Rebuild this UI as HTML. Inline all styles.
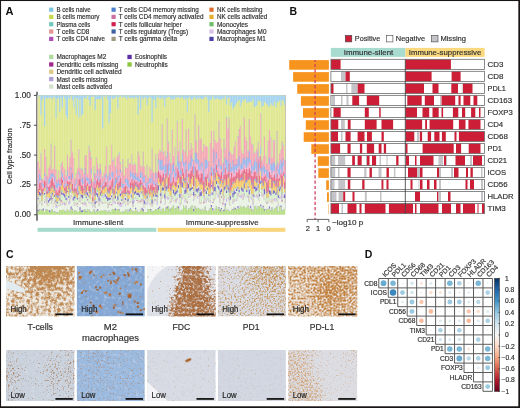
<!DOCTYPE html>
<html><head><meta charset="utf-8"><style>
html,body{margin:0;padding:0;background:#fff;}
body{width:520px;height:408px;overflow:hidden;position:relative;}
svg{position:absolute;left:0;top:0;font-family:"Liberation Sans",sans-serif;will-change:transform;}
</style></head><body>
<svg width="520" height="408" viewBox="0 0 520 408">
<rect x="0" y="0" width="520" height="408" fill="#fff"/>
<text x="5.50" y="14.70" font-size="10.5" fill="#111" text-anchor="start" textLength="8.00" lengthAdjust="spacingAndGlyphs" font-weight="bold">A</text>
<rect x="49.10" y="7.60" width="4.20" height="4.20" fill="#7cc6e0"/>
<text x="56.50" y="12.25" font-size="7" fill="#303030" text-anchor="start" textLength="34.10" lengthAdjust="spacingAndGlyphs" stroke="#303030" stroke-width="0.18">B cells naive</text>
<rect x="49.10" y="14.80" width="4.20" height="4.20" fill="#c6da4e"/>
<text x="56.50" y="19.45" font-size="7" fill="#303030" text-anchor="start" textLength="43.00" lengthAdjust="spacingAndGlyphs" stroke="#303030" stroke-width="0.18">B cells memory</text>
<rect x="49.10" y="22.10" width="4.20" height="4.20" fill="#6ec8bc"/>
<text x="56.50" y="26.75" font-size="7" fill="#303030" text-anchor="start" textLength="33.80" lengthAdjust="spacingAndGlyphs" stroke="#303030" stroke-width="0.18">Plasma cells</text>
<rect x="49.10" y="29.40" width="4.20" height="4.20" fill="#e29490"/>
<text x="56.50" y="34.05" font-size="7" fill="#303030" text-anchor="start" textLength="32.80" lengthAdjust="spacingAndGlyphs" stroke="#303030" stroke-width="0.18">T cells CD8</text>
<rect x="49.10" y="36.80" width="4.20" height="4.20" fill="#ae4fb6"/>
<text x="56.50" y="41.45" font-size="7" fill="#303030" text-anchor="start" textLength="48.40" lengthAdjust="spacingAndGlyphs" stroke="#303030" stroke-width="0.18">T cells CD4 naive</text>
<rect x="111.50" y="7.60" width="4.20" height="4.20" fill="#4f7fcf"/>
<text x="118.80" y="12.25" font-size="7" fill="#303030" text-anchor="start" textLength="79.90" lengthAdjust="spacingAndGlyphs" stroke="#303030" stroke-width="0.18">T cells CD4 memory missing</text>
<rect x="111.50" y="14.80" width="4.20" height="4.20" fill="#cf6fa6"/>
<text x="118.80" y="19.45" font-size="7" fill="#303030" text-anchor="start" textLength="84.70" lengthAdjust="spacingAndGlyphs" stroke="#303030" stroke-width="0.18">T cells CD4 memory activated</text>
<rect x="111.50" y="22.10" width="4.20" height="4.20" fill="#d42050"/>
<text x="118.80" y="26.75" font-size="7" fill="#303030" text-anchor="start" textLength="63.00" lengthAdjust="spacingAndGlyphs" stroke="#303030" stroke-width="0.18">T cells follicular helper</text>
<rect x="111.50" y="29.40" width="4.20" height="4.20" fill="#3f5f9f"/>
<text x="118.80" y="34.05" font-size="7" fill="#303030" text-anchor="start" textLength="69.30" lengthAdjust="spacingAndGlyphs" stroke="#303030" stroke-width="0.18">T cells regulatory (Tregs)</text>
<rect x="111.50" y="36.80" width="4.20" height="4.20" fill="#9e9a7e"/>
<text x="118.80" y="41.45" font-size="7" fill="#303030" text-anchor="start" textLength="58.40" lengthAdjust="spacingAndGlyphs" stroke="#303030" stroke-width="0.18">T cells gamma delta</text>
<rect x="209.40" y="7.60" width="4.20" height="4.20" fill="#de6c2e"/>
<text x="217.00" y="12.25" font-size="7" fill="#303030" text-anchor="start" textLength="45.50" lengthAdjust="spacingAndGlyphs" stroke="#303030" stroke-width="0.18">NK cells missing</text>
<rect x="209.40" y="14.80" width="4.20" height="4.20" fill="#e6ae2e"/>
<text x="217.00" y="19.45" font-size="7" fill="#303030" text-anchor="start" textLength="50.20" lengthAdjust="spacingAndGlyphs" stroke="#303030" stroke-width="0.18">NK cells activated</text>
<rect x="209.40" y="22.10" width="4.20" height="4.20" fill="#6cbe6c"/>
<text x="217.00" y="26.75" font-size="7" fill="#303030" text-anchor="start" textLength="31.10" lengthAdjust="spacingAndGlyphs" stroke="#303030" stroke-width="0.18">Monocytes</text>
<rect x="209.40" y="29.40" width="4.20" height="4.20" fill="#d6c0e8"/>
<text x="217.00" y="34.05" font-size="7" fill="#303030" text-anchor="start" textLength="49.50" lengthAdjust="spacingAndGlyphs" stroke="#303030" stroke-width="0.18">Macrophages M0</text>
<rect x="209.40" y="36.80" width="4.20" height="4.20" fill="#4a40a6"/>
<text x="217.00" y="41.45" font-size="7" fill="#303030" text-anchor="start" textLength="48.90" lengthAdjust="spacingAndGlyphs" stroke="#303030" stroke-width="0.18">Macrophages M1</text>
<rect x="49.10" y="54.80" width="4.30" height="4.30" fill="#aed89e"/>
<text x="56.40" y="59.45" font-size="7" fill="#303030" text-anchor="start" textLength="49.90" lengthAdjust="spacingAndGlyphs" stroke="#303030" stroke-width="0.18">Macrophages M2</text>
<rect x="49.10" y="62.30" width="4.30" height="4.30" fill="#a0288e"/>
<text x="56.40" y="66.95" font-size="7" fill="#303030" text-anchor="start" textLength="61.90" lengthAdjust="spacingAndGlyphs" stroke="#303030" stroke-width="0.18">Dendritic cells missing</text>
<rect x="49.10" y="69.60" width="4.30" height="4.30" fill="#dcca88"/>
<text x="56.40" y="74.25" font-size="7" fill="#303030" text-anchor="start" textLength="65.30" lengthAdjust="spacingAndGlyphs" stroke="#303030" stroke-width="0.18">Dendritic cell activated</text>
<rect x="49.10" y="76.90" width="4.30" height="4.30" fill="#ae9ed6"/>
<text x="56.40" y="81.55" font-size="7" fill="#303030" text-anchor="start" textLength="51.00" lengthAdjust="spacingAndGlyphs" stroke="#303030" stroke-width="0.18">Mast cells missing</text>
<rect x="49.10" y="84.40" width="4.30" height="4.30" fill="#d4e2cc"/>
<text x="56.40" y="89.05" font-size="7" fill="#303030" text-anchor="start" textLength="55.80" lengthAdjust="spacingAndGlyphs" stroke="#303030" stroke-width="0.18">Mast cells activated</text>
<rect x="127.40" y="54.80" width="4.30" height="4.30" fill="#5e30a6"/>
<text x="134.90" y="59.45" font-size="7" fill="#303030" text-anchor="start" textLength="32.10" lengthAdjust="spacingAndGlyphs" stroke="#303030" stroke-width="0.18">Eosinophils</text>
<rect x="127.40" y="62.30" width="4.30" height="4.30" fill="#8cc63e"/>
<text x="134.90" y="66.95" font-size="7" fill="#303030" text-anchor="start" textLength="32.90" lengthAdjust="spacingAndGlyphs" stroke="#303030" stroke-width="0.18">Neutrophils</text>
<line x1="37.00" y1="91.80" x2="37.00" y2="220.80" stroke="#4a4a4a" stroke-width="1.4"/>
<line x1="33.90" y1="214.80" x2="37.00" y2="214.80" stroke="#4a4a4a" stroke-width="1"/>
<text x="30.80" y="217.30" font-size="8.2" fill="#303030" text-anchor="end" stroke="#303030" stroke-width="0.18">0.00</text>
<line x1="33.90" y1="184.95" x2="37.00" y2="184.95" stroke="#4a4a4a" stroke-width="1"/>
<text x="30.80" y="187.45" font-size="8.2" fill="#303030" text-anchor="end" stroke="#303030" stroke-width="0.18">.25</text>
<line x1="33.90" y1="155.10" x2="37.00" y2="155.10" stroke="#4a4a4a" stroke-width="1"/>
<text x="30.80" y="157.60" font-size="8.2" fill="#303030" text-anchor="end" stroke="#303030" stroke-width="0.18">.50</text>
<line x1="33.90" y1="125.25" x2="37.00" y2="125.25" stroke="#4a4a4a" stroke-width="1"/>
<text x="30.80" y="127.75" font-size="8.2" fill="#303030" text-anchor="end" stroke="#303030" stroke-width="0.18">.75</text>
<line x1="33.90" y1="95.40" x2="37.00" y2="95.40" stroke="#4a4a4a" stroke-width="1"/>
<text x="30.80" y="97.90" font-size="8.2" fill="#303030" text-anchor="end" stroke="#303030" stroke-width="0.18">1.00</text>
<text x="0" y="0" font-size="6.8" fill="#303030" stroke="#303030" stroke-width="0.18" text-anchor="middle" textLength="56" lengthAdjust="spacingAndGlyphs" transform="translate(11.9,156.3) rotate(-90)">Cell type fraction</text>
<g><path d="M37.7 95.4V214.8H39.0V214.8H40.2V214.8H41.5V214.8H42.8V214.8H44.0V214.8H45.3V214.8H46.5V214.8H47.8V214.8H49.1V214.8H50.3V214.8H51.6V214.8H52.9V214.8H54.1V214.8H55.4V214.8H56.6V214.8H57.9V214.8H59.2V214.8H60.4V214.8H61.7V214.8H63.0V214.8H64.2V214.8H65.5V214.8H66.8V214.8H68.0V214.8H69.3V214.8H70.5V214.8H71.8V214.8H73.1V214.8H74.3V214.8H75.6V214.8H76.9V214.8H78.1V214.8H79.4V214.8H80.7V214.8H81.9V214.8H83.2V214.8H84.4V214.8H85.7V214.8H87.0V214.8H88.2V214.8H89.5V214.8H90.8V214.8H92.0V214.8H93.3V214.8H94.5V214.8H95.8V214.8H97.1V214.8H98.3V214.8H99.6V214.8H100.9V214.8H102.1V214.8H103.4V214.8H104.7V214.8H105.9V214.8H107.2V214.8H108.4V214.8H109.7V214.8H111.0V214.8H112.2V214.8H113.5V214.8H114.8V214.8H116.0V214.8H117.3V214.8H118.5V214.8H119.8V214.8H121.1V214.8H122.3V214.8H123.6V214.8H124.9V214.8H126.1V214.8H127.4V214.8H128.7V214.8H129.9V214.8H131.2V214.8H132.4V214.8H133.7V214.8H135.0V214.8H136.2V214.8H137.5V214.8H138.8V214.8H140.0V214.8H141.3V214.8H142.6V214.8H143.8V214.8H145.1V214.8H146.3V214.8H147.6V214.8H148.9V214.8H150.1V214.8H151.4V214.8H152.7V214.8H153.9V214.8H155.2V214.8H156.4V214.8H157.7V214.8H159.0V214.8H160.2V214.8H161.5V214.8H162.8V214.8H164.0V214.8H165.3V214.8H166.6V214.8H167.8V214.8H169.1V214.8H170.3V214.8H171.6V214.8H172.9V214.8H174.1V214.8H175.4V214.8H176.7V214.8H177.9V214.8H179.2V214.8H180.4V214.8H181.7V214.8H183.0V214.8H184.2V214.8H185.5V214.8H186.8V214.8H188.0V214.8H189.3V214.8H190.6V214.8H191.8V214.8H193.1V214.8H194.3V214.8H195.6V214.8H196.9V214.8H198.1V214.8H199.4V214.8H200.7V214.8H201.9V214.8H203.2V214.8H204.5V214.8H205.7V214.8H207.0V214.8H208.2V214.8H209.5V214.8H210.8V214.8H212.0V214.8H213.3V214.8H214.6V214.8H215.8V214.8H217.1V214.8H218.3V214.8H219.6V214.8H220.9V214.8H222.1V214.8H223.4V214.8H224.7V214.8H225.9V214.8H227.2V214.8H228.5V214.8H229.7V214.8H231.0V214.8H232.2V214.8H233.5V214.8H234.8V214.8H236.0V214.8H237.3V214.8H238.6V214.8H239.8V214.8H241.1V214.8H242.3V214.8H243.6V214.8H244.9V214.8H246.1V214.8H247.4V214.8H248.7V214.8H249.9V214.8H251.2V214.8H252.5V214.8H253.7V214.8H255.0V214.8H256.2V214.8H257.5V214.8H258.8V214.8H260.0V214.8H261.3V214.8H262.6V214.8H263.8V214.8H265.1V214.8H266.4V214.8H267.6V214.8H268.9V214.8H270.1V214.8H271.4V214.8H272.7V214.8H273.9V214.8H275.2V214.8H276.5V214.8H277.7V214.8H279.0V214.8H280.2V214.8H281.5V214.8H282.8V214.8H284.0V214.8H285.3V95.4Z" fill="#b8df88"/><path d="M37.7 95.4V211.3H39.0V210.1H40.2V209.7H41.5V209.3H42.8V210.6H44.0V212.0H45.3V208.9H46.5V209.5H47.8V210.4H49.1V212.3H50.3V210.8H51.6V208.9H52.9V211.5H54.1V211.3H55.4V212.2H56.6V212.4H57.9V211.9H59.2V210.1H60.4V210.0H61.7V209.9H63.0V209.4H64.2V211.2H65.5V210.9H66.8V209.1H68.0V210.3H69.3V211.7H70.5V208.8H71.8V209.5H73.1V211.5H74.3V210.6H75.6V210.6H76.9V211.9H78.1V210.9H79.4V209.5H80.7V212.3H81.9V212.1H83.2V209.7H84.4V209.3H85.7V211.9H87.0V209.1H88.2V209.7H89.5V211.2H90.8V212.3H92.0V210.9H93.3V208.9H94.5V212.3H95.8V211.3H97.1V210.6H98.3V211.5H99.6V210.9H100.9V210.1H102.1V210.9H103.4V210.2H104.7V210.7H105.9V210.5H107.2V212.4H108.4V210.4H109.7V212.0H111.0V209.8H112.2V208.9H113.5V209.1H114.8V210.3H116.0V209.7H117.3V208.9H118.5V210.0H119.8V211.9H121.1V211.2H122.3V212.2H123.6V211.0H124.9V209.8H126.1V209.5H127.4V212.3H128.7V211.0H129.9V208.9H131.2V209.9H132.4V211.8H133.7V211.2H135.0V208.9H136.2V210.5H137.5V212.2H138.8V211.7H140.0V209.8H141.3V209.4H142.6V211.2H143.8V212.2H145.1V212.0H146.3V211.9H147.6V208.9H148.9V209.1H150.1V210.3H151.4V211.2H152.7V211.1H153.9V209.9H155.2V209.1H156.4V209.5H157.7V208.9H159.0V208.1H160.2V210.9H161.5V209.1H162.8V208.0H164.0V210.7H165.3V207.3H166.6V208.5H167.8V206.3H169.1V210.6H170.3V208.2H171.6V206.9H172.9V205.4H174.1V208.4H175.4V208.5H176.7V206.1H177.9V208.3H179.2V210.6H180.4V210.9H181.7V209.5H183.0V205.5H184.2V208.0H185.5V205.7H186.8V210.2H188.0V208.3H189.3V208.5H190.6V206.2H191.8V205.4H193.1V211.2H194.3V205.9H195.6V208.6H196.9V207.7H198.1V208.1H199.4V209.3H200.7V210.6H201.9V208.8H203.2V209.9H204.5V206.5H205.7V210.4H207.0V211.1H208.2V210.6H209.5V208.0H210.8V207.3H212.0V210.3H213.3V211.1H214.6V208.8H215.8V206.2H217.1V208.8H218.3V207.6H219.6V211.2H220.9V208.9H222.1V210.8H223.4V211.2H224.7V205.6H225.9V209.8H227.2V209.5H228.5V210.8H229.7V211.0H231.0V209.7H232.2V209.7H233.5V207.8H234.8V209.4H236.0V209.0H237.3V208.0H238.6V208.4H239.8V205.8H241.1V207.2H242.3V206.8H243.6V206.3H244.9V207.9H246.1V206.9H247.4V205.3H248.7V208.7H249.9V207.9H251.2V210.3H252.5V210.5H253.7V206.5H255.0V205.7H256.2V208.7H257.5V206.1H258.8V206.4H260.0V206.3H261.3V207.9H262.6V207.2H263.8V210.6H265.1V208.7H266.4V209.8H267.6V208.8H268.9V208.4H270.1V210.5H271.4V207.3H272.7V210.0H273.9V208.6H275.2V207.5H276.5V206.1H277.7V211.2H279.0V206.2H280.2V207.1H281.5V210.6H282.8V209.6H284.0V208.9H285.3V95.4Z" fill="#8a70d0"/><path d="M37.7 95.4V209.7H39.0V209.4H40.2V209.7H41.5V209.3H42.8V208.4H44.0V212.0H45.3V208.9H46.5V209.5H47.8V210.4H49.1V210.3H50.3V210.8H51.6V208.9H52.9V211.5H54.1V211.3H55.4V212.2H56.6V212.4H57.9V211.9H59.2V210.1H60.4V210.0H61.7V209.9H63.0V209.4H64.2V211.2H65.5V210.9H66.8V209.1H68.0V210.3H69.3V211.7H70.5V206.6H71.8V208.8H73.1V211.5H74.3V210.6H75.6V210.6H76.9V211.9H78.1V210.9H79.4V207.2H80.7V210.2H81.9V210.3H83.2V209.7H84.4V209.3H85.7V211.3H87.0V209.1H88.2V209.7H89.5V211.2H90.8V212.3H92.0V210.9H93.3V208.9H94.5V212.3H95.8V210.5H97.1V208.9H98.3V211.5H99.6V210.9H100.9V210.1H102.1V210.9H103.4V210.2H104.7V210.7H105.9V210.5H107.2V212.4H108.4V210.4H109.7V212.0H111.0V209.8H112.2V208.9H113.5V209.1H114.8V208.4H116.0V209.7H117.3V208.9H118.5V209.3H119.8V211.9H121.1V211.2H122.3V212.2H123.6V211.0H124.9V209.8H126.1V209.5H127.4V212.3H128.7V209.4H129.9V208.2H131.2V209.9H132.4V211.8H133.7V211.2H135.0V207.7H136.2V210.5H137.5V212.2H138.8V211.7H140.0V209.8H141.3V207.8H142.6V208.9H143.8V212.2H145.1V212.0H146.3V211.9H147.6V208.9H148.9V209.1H150.1V208.9H151.4V211.2H152.7V211.1H153.9V209.9H155.2V209.1H156.4V209.5H157.7V207.7H159.0V206.5H160.2V210.9H161.5V209.1H162.8V208.0H164.0V210.7H165.3V207.3H166.6V206.6H167.8V206.3H169.1V209.4H170.3V208.2H171.6V206.9H172.9V205.4H174.1V208.4H175.4V208.5H176.7V206.1H177.9V206.6H179.2V210.6H180.4V210.9H181.7V209.5H183.0V205.5H184.2V208.0H185.5V205.7H186.8V210.2H188.0V208.3H189.3V208.5H190.6V206.2H191.8V205.4H193.1V209.1H194.3V205.9H195.6V208.6H196.9V207.7H198.1V208.1H199.4V209.3H200.7V210.6H201.9V208.8H203.2V209.9H204.5V206.5H205.7V210.4H207.0V211.1H208.2V210.6H209.5V208.0H210.8V205.1H212.0V208.0H213.3V211.1H214.6V208.8H215.8V206.2H217.1V208.8H218.3V206.9H219.6V209.4H220.9V208.0H222.1V210.8H223.4V209.7H224.7V203.3H225.9V209.8H227.2V209.5H228.5V210.8H229.7V211.0H231.0V209.7H232.2V208.9H233.5V207.8H234.8V207.7H236.0V209.0H237.3V206.1H238.6V208.4H239.8V205.8H241.1V207.2H242.3V206.8H243.6V206.3H244.9V207.9H246.1V206.9H247.4V205.3H248.7V208.7H249.9V205.7H251.2V209.6H252.5V210.5H253.7V206.5H255.0V205.7H256.2V208.7H257.5V206.1H258.8V206.4H260.0V204.5H261.3V207.9H262.6V205.8H263.8V209.3H265.1V208.7H266.4V209.8H267.6V208.8H268.9V206.6H270.1V209.9H271.4V207.3H272.7V210.0H273.9V208.6H275.2V207.5H276.5V206.1H277.7V211.2H279.0V206.2H280.2V205.4H281.5V210.6H282.8V209.6H284.0V208.9H285.3V95.4Z" fill="#e9f2e3"/><path d="M37.7 95.4V205.2H39.0V203.6H40.2V202.7H41.5V205.2H42.8V201.1H44.0V203.3H45.3V200.2H46.5V205.5H47.8V206.1H49.1V204.1H50.3V204.0H51.6V200.3H52.9V207.0H54.1V203.2H55.4V207.9H56.6V207.2H57.9V205.2H59.2V206.1H60.4V202.3H61.7V204.9H63.0V204.1H64.2V205.8H65.5V204.2H66.8V200.6H68.0V204.4H69.3V203.4H70.5V197.4H71.8V200.6H73.1V205.4H74.3V202.8H75.6V205.6H76.9V207.1H78.1V202.2H79.4V197.9H80.7V203.2H81.9V204.1H83.2V205.2H84.4V205.0H85.7V206.4H87.0V201.1H88.2V203.4H89.5V202.4H90.8V204.5H92.0V207.2H93.3V205.3H94.5V207.5H95.8V202.7H97.1V201.6H98.3V205.4H99.6V201.7H100.9V203.8H102.1V203.5H103.4V202.0H104.7V203.8H105.9V202.3H107.2V207.7H108.4V205.3H109.7V202.6H111.0V205.2H112.2V200.4H113.5V203.5H114.8V203.7H116.0V201.2H117.3V204.0H118.5V205.7H119.8V206.7H121.1V206.8H122.3V203.8H123.6V203.0H124.9V206.0H126.1V200.5H127.4V204.9H128.7V204.1H129.9V202.8H131.2V200.8H132.4V206.4H133.7V201.9H135.0V198.9H136.2V201.0H137.5V203.3H138.8V202.4H140.0V204.0H141.3V202.3H142.6V201.6H143.8V207.2H145.1V203.8H146.3V205.0H147.6V200.8H148.9V204.5H150.1V204.9H151.4V206.4H152.7V204.0H153.9V201.8H155.2V200.3H156.4V204.9H157.7V196.7H159.0V194.8H160.2V203.7H161.5V198.8H162.8V197.0H164.0V204.8H165.3V197.0H166.6V199.5H167.8V199.5H169.1V203.4H170.3V202.6H171.6V199.3H172.9V200.6H174.1V202.0H175.4V203.1H176.7V199.9H177.9V195.4H179.2V205.2H180.4V204.0H181.7V199.6H183.0V197.8H184.2V202.5H185.5V200.7H186.8V204.2H188.0V197.9H189.3V197.1H190.6V195.8H191.8V195.0H193.1V200.9H194.3V196.8H195.6V196.9H196.9V198.8H198.1V197.1H199.4V203.5H200.7V203.6H201.9V199.9H203.2V203.6H204.5V200.2H205.7V202.4H207.0V200.2H208.2V201.8H209.5V202.7H210.8V195.4H212.0V203.1H213.3V200.4H214.6V199.6H215.8V194.3H217.1V197.5H218.3V197.2H219.6V203.2H220.9V197.7H222.1V204.4H223.4V200.3H224.7V195.7H225.9V201.9H227.2V197.8H228.5V200.7H229.7V205.3H231.0V199.0H232.2V203.7H233.5V202.1H234.8V200.6H236.0V201.0H237.3V195.3H238.6V196.5H239.8V198.1H241.1V197.7H242.3V199.8H243.6V195.9H244.9V197.7H246.1V196.8H247.4V198.1H248.7V201.4H249.9V198.1H251.2V199.8H252.5V205.5H253.7V197.6H255.0V196.5H256.2V197.2H257.5V198.4H258.8V200.7H260.0V192.8H261.3V196.3H262.6V195.9H263.8V199.2H265.1V202.2H266.4V203.9H267.6V202.6H268.9V200.8H270.1V202.4H271.4V201.1H272.7V203.5H273.9V200.8H275.2V201.4H276.5V199.6H277.7V205.8H279.0V199.0H280.2V198.8H281.5V201.4H282.8V198.2H284.0V202.5H285.3V95.4Z" fill="#cbbcea"/><path d="M37.7 95.4V205.2H39.0V202.3H40.2V202.7H41.5V205.2H42.8V201.1H44.0V201.9H45.3V198.4H46.5V205.5H47.8V206.1H49.1V204.1H50.3V204.0H51.6V199.0H52.9V206.3H54.1V202.0H55.4V205.3H56.6V206.1H57.9V205.2H59.2V206.1H60.4V201.4H61.7V203.3H63.0V202.6H64.2V203.9H65.5V204.2H66.8V198.7H68.0V201.5H69.3V200.8H70.5V195.2H71.8V198.3H73.1V205.4H74.3V202.8H75.6V203.9H76.9V205.7H78.1V201.6H79.4V197.2H80.7V203.2H81.9V204.1H83.2V203.4H84.4V202.1H85.7V205.3H87.0V199.9H88.2V202.7H89.5V202.4H90.8V202.5H92.0V205.8H93.3V203.5H94.5V207.5H95.8V202.7H97.1V201.6H98.3V205.4H99.6V198.8H100.9V201.6H102.1V203.5H103.4V202.0H104.7V203.8H105.9V202.3H107.2V207.7H108.4V205.3H109.7V202.6H111.0V205.2H112.2V198.1H113.5V201.1H114.8V201.9H116.0V200.4H117.3V204.0H118.5V202.8H119.8V203.9H121.1V204.0H122.3V203.2H123.6V201.2H124.9V204.4H126.1V200.5H127.4V204.9H128.7V204.1H129.9V202.1H131.2V200.8H132.4V206.4H133.7V200.0H135.0V197.8H136.2V201.0H137.5V202.6H138.8V200.8H140.0V204.0H141.3V201.5H142.6V201.6H143.8V207.2H145.1V201.9H146.3V202.8H147.6V200.8H148.9V203.5H150.1V204.2H151.4V206.4H152.7V203.0H153.9V199.2H155.2V200.3H156.4V202.2H157.7V196.7H159.0V194.8H160.2V202.5H161.5V198.8H162.8V197.0H164.0V202.9H165.3V196.3H166.6V196.8H167.8V197.3H169.1V203.4H170.3V201.5H171.6V197.8H172.9V200.6H174.1V202.0H175.4V200.6H176.7V198.2H177.9V195.4H179.2V205.2H180.4V202.9H181.7V196.9H183.0V197.8H184.2V199.9H185.5V200.7H186.8V204.2H188.0V196.6H189.3V195.9H190.6V195.8H191.8V193.9H193.1V199.5H194.3V196.8H195.6V196.9H196.9V196.4H198.1V195.8H199.4V203.5H200.7V203.6H201.9V199.9H203.2V203.6H204.5V200.2H205.7V200.8H207.0V198.1H208.2V201.8H209.5V200.6H210.8V192.4H212.0V203.1H213.3V198.7H214.6V199.6H215.8V193.2H217.1V194.7H218.3V196.3H219.6V202.3H220.9V197.7H222.1V204.4H223.4V198.5H224.7V195.7H225.9V199.1H227.2V197.8H228.5V199.0H229.7V205.3H231.0V199.0H232.2V201.3H233.5V200.9H234.8V200.6H236.0V198.9H237.3V194.2H238.6V196.5H239.8V195.3H241.1V195.3H242.3V199.8H243.6V193.2H244.9V197.1H246.1V196.8H247.4V196.0H248.7V201.4H249.9V196.7H251.2V198.7H252.5V203.5H253.7V194.7H255.0V196.5H256.2V194.5H257.5V196.2H258.8V200.7H260.0V191.9H261.3V196.3H262.6V194.0H263.8V199.2H265.1V201.4H266.4V203.9H267.6V201.4H268.9V200.8H270.1V202.4H271.4V201.1H272.7V203.5H273.9V198.0H275.2V198.7H276.5V199.6H277.7V203.5H279.0V196.8H280.2V196.8H281.5V201.4H282.8V195.7H284.0V202.5H285.3V95.4Z" fill="#f0e4ae"/><path d="M37.7 95.4V205.2H39.0V200.3H40.2V202.7H41.5V205.2H42.8V201.1H44.0V201.9H45.3V196.6H46.5V203.5H47.8V205.2H49.1V204.1H50.3V204.0H51.6V199.0H52.9V204.0H54.1V200.7H55.4V204.4H56.6V206.1H57.9V205.2H59.2V206.1H60.4V201.4H61.7V201.2H63.0V202.6H64.2V203.9H65.5V204.2H66.8V198.7H68.0V201.5H69.3V198.5H70.5V194.9H71.8V196.0H73.1V205.4H74.3V202.8H75.6V203.9H76.9V203.8H78.1V201.6H79.4V197.2H80.7V203.2H81.9V204.1H83.2V202.0H84.4V202.1H85.7V203.6H87.0V199.9H88.2V202.7H89.5V202.4H90.8V202.5H92.0V205.8H93.3V203.5H94.5V207.5H95.8V202.7H97.1V201.6H98.3V205.4H99.6V198.8H100.9V201.6H102.1V203.5H103.4V202.0H104.7V202.2H105.9V202.3H107.2V207.7H108.4V204.7H109.7V202.6H111.0V205.2H112.2V198.1H113.5V201.1H114.8V201.9H116.0V200.4H117.3V204.0H118.5V201.6H119.8V203.9H121.1V204.0H122.3V203.2H123.6V198.8H124.9V202.9H126.1V200.5H127.4V204.9H128.7V202.3H129.9V201.3H131.2V200.8H132.4V206.4H133.7V200.0H135.0V197.8H136.2V201.0H137.5V200.4H138.8V200.8H140.0V201.8H141.3V200.3H142.6V200.5H143.8V207.2H145.1V201.9H146.3V202.8H147.6V199.3H148.9V203.5H150.1V202.1H151.4V206.4H152.7V200.9H153.9V199.2H155.2V200.3H156.4V202.2H157.7V196.7H159.0V194.8H160.2V202.5H161.5V197.0H162.8V197.0H164.0V202.9H165.3V196.3H166.6V196.8H167.8V197.3H169.1V202.6H170.3V201.5H171.6V196.2H172.9V200.6H174.1V200.0H175.4V200.6H176.7V198.2H177.9V195.4H179.2V205.2H180.4V202.9H181.7V194.8H183.0V195.7H184.2V199.9H185.5V198.8H186.8V202.9H188.0V194.5H189.3V194.8H190.6V193.7H191.8V193.9H193.1V199.5H194.3V195.3H195.6V196.9H196.9V196.4H198.1V194.8H199.4V203.5H200.7V202.4H201.9V199.9H203.2V203.2H204.5V198.6H205.7V200.8H207.0V197.4H208.2V201.8H209.5V200.6H210.8V192.4H212.0V203.1H213.3V198.7H214.6V197.9H215.8V191.3H217.1V194.7H218.3V194.4H219.6V202.3H220.9V197.7H222.1V204.4H223.4V196.5H224.7V195.7H225.9V199.1H227.2V196.9H228.5V199.0H229.7V205.3H231.0V199.0H232.2V201.3H233.5V199.0H234.8V200.6H236.0V198.9H237.3V194.2H238.6V196.5H239.8V195.3H241.1V194.2H242.3V199.8H243.6V193.2H244.9V197.1H246.1V196.8H247.4V195.3H248.7V201.4H249.9V196.7H251.2V198.7H252.5V203.5H253.7V194.7H255.0V196.5H256.2V194.5H257.5V196.2H258.8V200.7H260.0V191.9H261.3V196.3H262.6V194.0H263.8V199.2H265.1V201.4H266.4V203.9H267.6V201.4H268.9V199.8H270.1V202.4H271.4V198.9H272.7V201.2H273.9V198.0H275.2V198.7H276.5V199.6H277.7V202.1H279.0V196.8H280.2V195.9H281.5V201.4H282.8V195.7H284.0V202.5H285.3V95.4Z" fill="#c478ba"/><path d="M37.7 95.4V204.8H39.0V200.3H40.2V202.7H41.5V205.2H42.8V201.1H44.0V201.5H45.3V196.0H46.5V203.5H47.8V205.2H49.1V204.1H50.3V204.0H51.6V198.0H52.9V204.0H54.1V200.7H55.4V204.4H56.6V206.1H57.9V205.2H59.2V206.1H60.4V200.0H61.7V201.2H63.0V202.6H64.2V203.3H65.5V204.2H66.8V198.7H68.0V201.5H69.3V198.5H70.5V194.9H71.8V196.0H73.1V205.4H74.3V202.8H75.6V203.9H76.9V203.1H78.1V201.6H79.4V197.2H80.7V203.2H81.9V203.2H83.2V202.0H84.4V202.1H85.7V203.6H87.0V199.0H88.2V202.7H89.5V202.4H90.8V202.5H92.0V205.8H93.3V203.5H94.5V207.5H95.8V201.3H97.1V201.6H98.3V205.4H99.6V198.8H100.9V201.6H102.1V203.5H103.4V202.0H104.7V202.2H105.9V202.3H107.2V207.7H108.4V203.7H109.7V202.2H111.0V204.0H112.2V198.1H113.5V201.1H114.8V201.9H116.0V200.4H117.3V202.8H118.5V201.6H119.8V202.6H121.1V203.4H122.3V203.2H123.6V198.8H124.9V202.9H126.1V200.5H127.4V204.9H128.7V202.3H129.9V201.3H131.2V200.8H132.4V206.4H133.7V200.0H135.0V197.8H136.2V200.1H137.5V200.4H138.8V200.8H140.0V200.7H141.3V199.2H142.6V199.9H143.8V207.2H145.1V201.9H146.3V202.8H147.6V199.3H148.9V203.5H150.1V202.1H151.4V206.4H152.7V200.9H153.9V199.2H155.2V199.6H156.4V202.2H157.7V196.7H159.0V194.8H160.2V201.2H161.5V196.4H162.8V197.0H164.0V202.9H165.3V196.3H166.6V196.8H167.8V197.3H169.1V202.6H170.3V201.5H171.6V196.2H172.9V200.6H174.1V200.0H175.4V199.5H176.7V198.2H177.9V195.4H179.2V205.2H180.4V202.9H181.7V194.8H183.0V195.7H184.2V199.9H185.5V198.8H186.8V201.6H188.0V194.5H189.3V194.8H190.6V193.7H191.8V193.9H193.1V199.5H194.3V194.1H195.6V196.9H196.9V196.4H198.1V194.8H199.4V203.5H200.7V202.4H201.9V199.9H203.2V201.9H204.5V198.6H205.7V200.8H207.0V197.4H208.2V201.8H209.5V200.6H210.8V192.4H212.0V201.9H213.3V198.7H214.6V197.9H215.8V191.3H217.1V194.7H218.3V194.4H219.6V202.3H220.9V196.6H222.1V203.0H223.4V196.5H224.7V195.7H225.9V199.1H227.2V196.9H228.5V199.0H229.7V205.3H231.0V199.0H232.2V201.3H233.5V199.0H234.8V200.6H236.0V198.9H237.3V193.5H238.6V196.5H239.8V195.3H241.1V194.2H242.3V199.8H243.6V193.2H244.9V197.1H246.1V196.8H247.4V195.3H248.7V201.4H249.9V196.7H251.2V198.7H252.5V203.5H253.7V194.7H255.0V196.5H256.2V194.5H257.5V196.2H258.8V200.7H260.0V191.9H261.3V196.3H262.6V194.0H263.8V199.2H265.1V201.4H266.4V203.4H267.6V201.4H268.9V199.8H270.1V202.4H271.4V198.9H272.7V201.2H273.9V198.0H275.2V198.7H276.5V199.6H277.7V202.1H279.0V196.8H280.2V195.9H281.5V200.2H282.8V195.7H284.0V202.5H285.3V95.4Z" fill="#d8efcd"/><path d="M37.7 95.4V199.3H39.0V195.3H40.2V196.1H41.5V200.7H42.8V195.5H44.0V194.4H45.3V189.7H46.5V197.9H47.8V202.8H49.1V200.8H50.3V199.4H51.6V194.8H52.9V197.2H54.1V196.9H55.4V201.7H56.6V203.3H57.9V200.4H59.2V200.2H60.4V194.4H61.7V194.5H63.0V195.8H64.2V197.4H65.5V200.0H66.8V192.3H68.0V198.1H69.3V192.6H70.5V190.9H71.8V193.4H73.1V200.6H74.3V198.3H75.6V197.7H76.9V199.5H78.1V194.4H79.4V193.8H80.7V197.2H81.9V198.4H83.2V195.3H84.4V195.0H85.7V198.1H87.0V195.4H88.2V196.8H89.5V198.4H90.8V197.1H92.0V202.2H93.3V198.8H94.5V203.9H95.8V194.9H97.1V197.0H98.3V200.8H99.6V195.4H100.9V196.6H102.1V198.0H103.4V196.4H104.7V196.6H105.9V199.0H107.2V200.9H108.4V199.9H109.7V199.4H111.0V197.5H112.2V192.9H113.5V198.3H114.8V198.6H116.0V193.4H117.3V200.2H118.5V195.8H119.8V196.2H121.1V201.0H122.3V199.2H123.6V196.2H124.9V199.9H126.1V194.2H127.4V201.2H128.7V198.7H129.9V195.2H131.2V197.8H132.4V203.3H133.7V194.4H135.0V193.4H136.2V194.9H137.5V195.3H138.8V197.0H140.0V193.7H141.3V193.6H142.6V196.6H143.8V204.3H145.1V199.3H146.3V198.8H147.6V196.5H148.9V197.3H150.1V196.4H151.4V203.6H152.7V196.5H153.9V196.2H155.2V196.4H156.4V197.1H157.7V190.2H159.0V186.5H160.2V196.1H161.5V190.8H162.8V190.3H164.0V198.6H165.3V191.0H166.6V188.9H167.8V192.1H169.1V195.8H170.3V196.3H171.6V191.1H172.9V193.5H174.1V195.7H175.4V194.0H176.7V192.6H177.9V188.2H179.2V198.0H180.4V195.2H181.7V187.4H183.0V189.0H184.2V194.1H185.5V192.4H186.8V193.5H188.0V188.2H189.3V191.2H190.6V189.7H191.8V189.1H193.1V195.8H194.3V186.2H195.6V191.6H196.9V192.6H198.1V190.4H199.4V196.3H200.7V195.8H201.9V195.0H203.2V197.9H204.5V191.0H205.7V194.0H207.0V190.3H208.2V195.7H209.5V195.5H210.8V186.6H212.0V194.7H213.3V191.3H214.6V191.2H215.8V184.1H217.1V187.8H218.3V189.4H219.6V194.4H220.9V192.0H222.1V195.9H223.4V190.4H224.7V188.8H225.9V193.0H227.2V189.2H228.5V192.4H229.7V199.7H231.0V192.6H232.2V197.3H233.5V194.5H234.8V193.6H236.0V190.9H237.3V189.1H238.6V192.3H239.8V188.7H241.1V190.4H242.3V192.1H243.6V187.9H244.9V189.3H246.1V192.1H247.4V188.0H248.7V194.5H249.9V192.3H251.2V195.0H252.5V196.5H253.7V189.0H255.0V191.4H256.2V190.5H257.5V188.1H258.8V196.2H260.0V183.9H261.3V189.4H262.6V190.4H263.8V194.3H265.1V194.2H266.4V198.3H267.6V197.4H268.9V193.9H270.1V195.6H271.4V192.8H272.7V193.9H273.9V192.9H275.2V195.0H276.5V193.2H277.7V198.1H279.0V191.2H280.2V189.2H281.5V196.4H282.8V187.8H284.0V197.9H285.3V95.4Z" fill="#7c6cc8"/><path d="M37.7 95.4V197.9H39.0V192.1H40.2V193.1H41.5V200.7H42.8V195.5H44.0V192.9H45.3V189.7H46.5V197.9H47.8V200.0H49.1V198.2H50.3V195.5H51.6V192.6H52.9V197.2H54.1V194.7H55.4V200.0H56.6V202.0H57.9V200.4H59.2V198.2H60.4V191.8H61.7V193.3H63.0V193.1H64.2V194.2H65.5V198.0H66.8V190.7H68.0V196.0H69.3V188.5H70.5V190.9H71.8V193.4H73.1V197.0H74.3V195.2H75.6V197.7H76.9V197.7H78.1V191.1H79.4V193.8H80.7V194.2H81.9V195.0H83.2V195.3H84.4V191.4H85.7V196.6H87.0V192.6H88.2V195.3H89.5V198.4H90.8V197.1H92.0V202.2H93.3V198.8H94.5V201.5H95.8V192.7H97.1V193.6H98.3V197.6H99.6V191.9H100.9V196.6H102.1V198.0H103.4V196.4H104.7V194.2H105.9V196.1H107.2V197.3H108.4V197.4H109.7V198.2H111.0V195.2H112.2V189.0H113.5V198.3H114.8V195.7H116.0V191.6H117.3V196.3H118.5V195.8H119.8V193.5H121.1V199.3H122.3V199.2H123.6V196.2H124.9V197.9H126.1V191.5H127.4V198.4H128.7V198.7H129.9V195.2H131.2V194.4H132.4V201.8H133.7V192.0H135.0V190.7H136.2V193.3H137.5V192.2H138.8V194.2H140.0V193.7H141.3V191.0H142.6V196.6H143.8V200.4H145.1V199.3H146.3V195.3H147.6V196.5H148.9V197.3H150.1V196.4H151.4V199.5H152.7V194.1H153.9V196.2H155.2V192.9H156.4V194.8H157.7V185.2H159.0V186.5H160.2V193.2H161.5V187.5H162.8V187.6H164.0V194.0H165.3V186.6H166.6V184.9H167.8V192.1H169.1V195.8H170.3V196.3H171.6V191.1H172.9V189.7H174.1V192.2H175.4V190.8H176.7V189.7H177.9V184.9H179.2V193.9H180.4V195.2H181.7V182.3H183.0V189.0H184.2V190.0H185.5V187.2H186.8V193.5H188.0V183.8H189.3V188.2H190.6V187.6H191.8V186.9H193.1V192.0H194.3V181.0H195.6V188.7H196.9V188.6H198.1V187.8H199.4V192.2H200.7V191.6H201.9V195.0H203.2V197.9H204.5V189.4H205.7V191.2H207.0V187.5H208.2V194.2H209.5V195.5H210.8V184.9H212.0V192.5H213.3V187.3H214.6V186.6H215.8V181.0H217.1V185.6H218.3V186.5H219.6V190.4H220.9V189.1H222.1V195.9H223.4V186.9H224.7V185.5H225.9V190.6H227.2V184.4H228.5V187.8H229.7V196.0H231.0V192.6H232.2V193.1H233.5V190.6H234.8V192.0H236.0V189.0H237.3V186.4H238.6V190.1H239.8V188.7H241.1V187.2H242.3V188.3H243.6V183.3H244.9V189.3H246.1V190.0H247.4V185.9H248.7V189.7H249.9V192.3H251.2V195.0H252.5V194.5H253.7V186.2H255.0V186.4H256.2V188.0H257.5V183.7H258.8V194.2H260.0V180.9H261.3V189.4H262.6V190.4H263.8V189.1H265.1V194.2H266.4V198.3H267.6V197.4H268.9V190.2H270.1V190.7H271.4V192.8H272.7V190.0H273.9V190.9H275.2V192.5H276.5V188.6H277.7V194.6H279.0V188.2H280.2V185.8H281.5V196.4H282.8V187.8H284.0V194.4H285.3V95.4Z" fill="#e6d8f2"/><path d="M37.7 95.4V196.5H39.0V192.1H40.2V191.0H41.5V200.7H42.8V195.5H44.0V190.9H45.3V189.1H46.5V197.0H47.8V197.8H49.1V198.2H50.3V193.9H51.6V192.6H52.9V197.2H54.1V192.8H55.4V200.0H56.6V202.0H57.9V200.4H59.2V196.3H60.4V191.8H61.7V192.5H63.0V193.1H64.2V193.3H65.5V196.5H66.8V190.7H68.0V196.0H69.3V187.5H70.5V189.6H71.8V193.4H73.1V197.0H74.3V195.2H75.6V197.7H76.9V197.7H78.1V191.1H79.4V193.8H80.7V194.2H81.9V195.0H83.2V195.3H84.4V191.4H85.7V196.6H87.0V190.6H88.2V193.3H89.5V198.4H90.8V195.1H92.0V202.2H93.3V196.7H94.5V200.1H95.8V191.5H97.1V192.0H98.3V195.9H99.6V191.2H100.9V196.6H102.1V195.9H103.4V194.6H104.7V192.5H105.9V194.0H107.2V197.3H108.4V197.4H109.7V196.2H111.0V193.4H112.2V189.0H113.5V198.3H114.8V195.0H116.0V190.0H117.3V196.3H118.5V195.8H119.8V191.2H121.1V197.7H122.3V199.2H123.6V196.2H124.9V196.2H126.1V191.5H127.4V198.4H128.7V198.7H129.9V193.8H131.2V192.0H132.4V199.7H133.7V192.0H135.0V190.7H136.2V192.5H137.5V192.2H138.8V193.4H140.0V192.3H141.3V190.0H142.6V196.0H143.8V198.5H145.1V199.3H146.3V195.3H147.6V195.1H148.9V197.3H150.1V195.5H151.4V199.5H152.7V194.1H153.9V195.3H155.2V192.9H156.4V194.8H157.7V184.3H159.0V186.5H160.2V192.4H161.5V186.4H162.8V187.6H164.0V194.0H165.3V185.9H166.6V183.3H167.8V192.1H169.1V195.8H170.3V196.3H171.6V190.2H172.9V188.0H174.1V192.2H175.4V190.8H176.7V187.8H177.9V183.5H179.2V193.2H180.4V193.6H181.7V180.9H183.0V188.3H184.2V187.8H185.5V186.0H186.8V192.6H188.0V182.5H189.3V188.2H190.6V187.6H191.8V184.6H193.1V190.8H194.3V181.0H195.6V188.7H196.9V187.0H198.1V185.4H199.4V191.0H200.7V189.3H201.9V193.2H203.2V196.1H204.5V187.9H205.7V190.3H207.0V187.5H208.2V194.2H209.5V194.5H210.8V183.6H212.0V191.0H213.3V184.9H214.6V186.6H215.8V181.0H217.1V184.5H218.3V184.2H219.6V188.0H220.9V187.0H222.1V195.9H223.4V186.9H224.7V185.5H225.9V189.8H227.2V184.4H228.5V187.8H229.7V196.0H231.0V192.0H232.2V193.1H233.5V189.1H234.8V189.7H236.0V188.4H237.3V186.4H238.6V189.2H239.8V188.7H241.1V187.2H242.3V188.3H243.6V183.3H244.9V189.3H246.1V190.0H247.4V185.1H248.7V187.5H249.9V190.8H251.2V193.9H252.5V194.5H253.7V186.2H255.0V186.4H256.2V186.1H257.5V181.3H258.8V192.2H260.0V179.4H261.3V189.4H262.6V189.0H263.8V189.1H265.1V192.9H266.4V197.5H267.6V197.4H268.9V188.3H270.1V188.5H271.4V192.8H272.7V189.2H273.9V190.9H275.2V192.5H276.5V186.6H277.7V194.6H279.0V188.2H280.2V184.3H281.5V194.3H282.8V185.5H284.0V192.5H285.3V95.4Z" fill="#a8daa8"/><path d="M37.7 95.4V196.5H39.0V192.1H40.2V191.0H41.5V200.7H42.8V193.8H44.0V190.9H45.3V189.1H46.5V197.0H47.8V197.0H49.1V198.2H50.3V193.3H51.6V191.6H52.9V197.2H54.1V192.8H55.4V198.7H56.6V202.0H57.9V200.4H59.2V196.3H60.4V190.5H61.7V190.6H63.0V193.1H64.2V193.3H65.5V195.6H66.8V190.7H68.0V195.1H69.3V187.5H70.5V188.6H71.8V193.4H73.1V196.0H74.3V193.2H75.6V196.7H76.9V197.7H78.1V191.1H79.4V193.8H80.7V194.2H81.9V195.0H83.2V194.9H84.4V191.4H85.7V196.6H87.0V189.9H88.2V193.3H89.5V198.4H90.8V192.9H92.0V202.2H93.3V195.9H94.5V200.1H95.8V189.2H97.1V190.1H98.3V195.9H99.6V190.0H100.9V195.1H102.1V193.8H103.4V194.6H104.7V192.5H105.9V192.6H107.2V197.3H108.4V197.4H109.7V196.2H111.0V193.4H112.2V188.7H113.5V198.3H114.8V193.4H116.0V190.0H117.3V196.3H118.5V193.5H119.8V189.8H121.1V197.7H122.3V198.4H123.6V195.4H124.9V196.2H126.1V191.5H127.4V198.4H128.7V198.7H129.9V193.8H131.2V192.0H132.4V198.5H133.7V192.0H135.0V190.7H136.2V192.5H137.5V192.2H138.8V192.7H140.0V192.3H141.3V190.0H142.6V195.0H143.8V198.5H145.1V198.8H146.3V195.3H147.6V192.8H148.9V197.3H150.1V195.5H151.4V199.5H152.7V193.6H153.9V195.3H155.2V192.9H156.4V194.8H157.7V184.3H159.0V186.5H160.2V192.4H161.5V185.2H162.8V187.1H164.0V194.0H165.3V183.6H166.6V183.3H167.8V192.1H169.1V195.8H170.3V195.5H171.6V190.2H172.9V188.0H174.1V192.2H175.4V190.8H176.7V187.8H177.9V183.5H179.2V193.2H180.4V193.6H181.7V179.3H183.0V187.5H184.2V187.8H185.5V184.1H186.8V192.6H188.0V180.9H189.3V187.4H190.6V187.6H191.8V184.6H193.1V190.2H194.3V180.3H195.6V188.7H196.9V187.0H198.1V185.4H199.4V189.3H200.7V189.3H201.9V193.2H203.2V196.1H204.5V187.9H205.7V190.3H207.0V187.5H208.2V194.2H209.5V192.9H210.8V183.6H212.0V191.0H213.3V183.1H214.6V186.6H215.8V181.0H217.1V183.2H218.3V183.6H219.6V188.0H220.9V186.5H222.1V195.2H223.4V186.9H224.7V185.5H225.9V189.8H227.2V184.4H228.5V185.5H229.7V196.0H231.0V191.5H232.2V190.9H233.5V188.1H234.8V189.1H236.0V187.1H237.3V186.4H238.6V189.2H239.8V188.7H241.1V186.6H242.3V188.3H243.6V183.3H244.9V189.3H246.1V190.0H247.4V183.7H248.7V187.5H249.9V189.3H251.2V193.9H252.5V194.5H253.7V185.5H255.0V186.4H256.2V186.1H257.5V179.7H258.8V190.0H260.0V179.4H261.3V189.4H262.6V189.0H263.8V187.3H265.1V191.2H266.4V197.5H267.6V197.4H268.9V186.7H270.1V188.5H271.4V192.8H272.7V189.2H273.9V190.9H275.2V192.5H276.5V185.5H277.7V194.6H279.0V186.2H280.2V184.3H281.5V192.2H282.8V185.0H284.0V192.5H285.3V95.4Z" fill="#f5cb6c"/><path d="M37.7 95.4V194.7H39.0V189.7H40.2V189.5H41.5V195.3H42.8V192.3H44.0V189.0H45.3V185.7H46.5V193.9H47.8V193.0H49.1V193.3H50.3V190.0H51.6V187.4H52.9V192.2H54.1V191.1H55.4V196.8H56.6V197.4H57.9V198.1H59.2V192.8H60.4V185.4H61.7V185.4H63.0V187.5H64.2V191.1H65.5V193.2H66.8V185.9H68.0V189.3H69.3V185.4H70.5V182.8H71.8V190.9H73.1V193.1H74.3V190.6H75.6V194.9H76.9V196.2H78.1V185.6H79.4V188.7H80.7V191.0H81.9V193.2H83.2V192.8H84.4V189.3H85.7V194.8H87.0V185.8H88.2V190.9H89.5V193.2H90.8V187.4H92.0V200.9H93.3V191.4H94.5V195.8H95.8V187.5H97.1V184.7H98.3V190.0H99.6V186.8H100.9V193.3H102.1V189.6H103.4V189.2H104.7V186.8H105.9V186.8H107.2V193.3H108.4V193.5H109.7V191.0H111.0V189.2H112.2V186.2H113.5V194.9H114.8V188.4H116.0V184.5H117.3V190.4H118.5V188.3H119.8V187.3H121.1V195.5H122.3V193.3H123.6V193.7H124.9V194.3H126.1V188.5H127.4V192.7H128.7V194.9H129.9V189.1H131.2V186.7H132.4V192.9H133.7V188.7H135.0V186.5H136.2V187.4H137.5V189.6H138.8V190.1H140.0V189.4H141.3V185.1H142.6V190.7H143.8V196.0H145.1V195.9H146.3V193.6H147.6V188.6H148.9V194.4H150.1V190.6H151.4V194.5H152.7V189.9H153.9V193.5H155.2V188.3H156.4V193.5H157.7V179.1H159.0V182.1H160.2V185.9H161.5V181.4H162.8V181.8H164.0V189.2H165.3V178.6H166.6V176.4H167.8V188.2H169.1V188.4H170.3V191.3H171.6V186.0H172.9V182.8H174.1V185.3H175.4V186.8H176.7V179.6H177.9V177.4H179.2V183.7H180.4V187.0H181.7V175.7H183.0V180.9H184.2V183.3H185.5V179.6H186.8V189.4H188.0V176.9H189.3V183.5H190.6V178.8H191.8V176.6H193.1V185.9H194.3V171.2H195.6V179.3H196.9V178.9H198.1V181.6H199.4V185.1H200.7V184.4H201.9V184.4H203.2V192.7H204.5V181.3H205.7V186.5H207.0V178.7H208.2V186.6H209.5V189.6H210.8V175.9H212.0V188.6H213.3V174.6H214.6V181.2H215.8V172.3H217.1V175.9H218.3V179.0H219.6V184.0H220.9V181.0H222.1V186.6H223.4V179.2H224.7V181.6H225.9V187.1H227.2V177.8H228.5V177.5H229.7V192.4H231.0V189.0H232.2V184.4H233.5V181.1H234.8V183.1H236.0V180.3H237.3V177.5H238.6V182.7H239.8V180.4H241.1V181.9H242.3V181.2H243.6V174.3H244.9V183.3H246.1V182.2H247.4V180.0H248.7V178.6H249.9V180.3H251.2V184.8H252.5V189.0H253.7V180.4H255.0V181.7H256.2V183.0H257.5V174.6H258.8V183.2H260.0V171.6H261.3V182.7H262.6V186.6H263.8V181.0H265.1V182.8H266.4V193.9H267.6V191.9H268.9V179.2H270.1V179.1H271.4V187.7H272.7V182.1H273.9V185.4H275.2V187.8H276.5V181.5H277.7V189.6H279.0V180.6H280.2V178.0H281.5V186.6H282.8V176.0H284.0V188.6H285.3V95.4Z" fill="#f2a070"/><path d="M37.7 95.4V193.1H39.0V189.7H40.2V189.5H41.5V195.3H42.8V191.6H44.0V189.0H45.3V185.7H46.5V193.9H47.8V193.0H49.1V191.8H50.3V189.2H51.6V187.4H52.9V190.1H54.1V191.1H55.4V196.8H56.6V197.4H57.9V197.5H59.2V192.8H60.4V185.4H61.7V183.1H63.0V187.5H64.2V191.1H65.5V193.2H66.8V185.9H68.0V189.3H69.3V184.2H70.5V180.5H71.8V190.9H73.1V193.1H74.3V190.6H75.6V192.6H76.9V195.0H78.1V185.6H79.4V186.7H80.7V191.0H81.9V193.2H83.2V190.6H84.4V189.3H85.7V194.8H87.0V185.8H88.2V190.9H89.5V193.2H90.8V187.4H92.0V200.9H93.3V191.4H94.5V195.8H95.8V187.5H97.1V184.7H98.3V188.6H99.6V186.8H100.9V193.3H102.1V189.2H103.4V189.2H104.7V186.8H105.9V186.8H107.2V193.3H108.4V193.5H109.7V191.0H111.0V189.2H112.2V186.2H113.5V194.0H114.8V186.9H116.0V182.9H117.3V189.7H118.5V188.3H119.8V187.3H121.1V195.0H122.3V193.3H123.6V193.7H124.9V194.3H126.1V188.5H127.4V192.7H128.7V194.9H129.9V188.0H131.2V186.7H132.4V192.5H133.7V188.7H135.0V185.3H136.2V187.1H137.5V189.6H138.8V189.7H140.0V187.8H141.3V185.1H142.6V188.7H143.8V193.7H145.1V195.9H146.3V193.6H147.6V188.6H148.9V194.4H150.1V190.6H151.4V192.7H152.7V189.9H153.9V193.5H155.2V186.7H156.4V193.5H157.7V179.1H159.0V182.1H160.2V185.9H161.5V181.4H162.8V180.1H164.0V189.2H165.3V177.9H166.6V175.6H167.8V188.2H169.1V187.1H170.3V190.8H171.6V186.0H172.9V182.8H174.1V185.3H175.4V186.8H176.7V179.6H177.9V177.4H179.2V183.7H180.4V187.0H181.7V175.7H183.0V180.9H184.2V183.3H185.5V178.1H186.8V189.4H188.0V176.9H189.3V183.5H190.6V178.8H191.8V176.6H193.1V185.9H194.3V171.2H195.6V177.3H196.9V178.9H198.1V181.6H199.4V185.1H200.7V182.3H201.9V184.4H203.2V192.7H204.5V181.3H205.7V186.5H207.0V178.7H208.2V186.6H209.5V188.3H210.8V175.4H212.0V188.6H213.3V174.6H214.6V181.2H215.8V172.3H217.1V175.9H218.3V179.0H219.6V183.6H220.9V179.7H222.1V186.1H223.4V179.2H224.7V181.6H225.9V186.4H227.2V177.8H228.5V176.3H229.7V192.4H231.0V187.3H232.2V183.8H233.5V181.1H234.8V183.1H236.0V180.3H237.3V177.5H238.6V180.8H239.8V180.4H241.1V179.9H242.3V180.1H243.6V173.3H244.9V183.3H246.1V182.2H247.4V180.0H248.7V178.6H249.9V180.3H251.2V184.8H252.5V189.0H253.7V180.4H255.0V181.7H256.2V183.0H257.5V172.6H258.8V183.2H260.0V171.6H261.3V182.7H262.6V185.8H263.8V181.0H265.1V182.8H266.4V193.9H267.6V191.4H268.9V179.2H270.1V179.1H271.4V187.7H272.7V182.1H273.9V183.5H275.2V186.7H276.5V181.5H277.7V189.6H279.0V180.6H280.2V178.0H281.5V186.6H282.8V176.0H284.0V188.6H285.3V95.4Z" fill="#c8c4ae"/><path d="M37.7 95.4V193.1H39.0V189.7H40.2V189.5H41.5V194.7H42.8V190.8H44.0V188.0H45.3V185.7H46.5V193.9H47.8V193.0H49.1V191.1H50.3V188.1H51.6V186.0H52.9V188.8H54.1V191.1H55.4V195.4H56.6V197.4H57.9V197.5H59.2V192.8H60.4V185.4H61.7V183.1H63.0V187.5H64.2V191.1H65.5V193.2H66.8V185.9H68.0V189.3H69.3V184.2H70.5V179.8H71.8V190.9H73.1V192.5H74.3V190.6H75.6V192.6H76.9V195.0H78.1V185.3H79.4V186.0H80.7V191.0H81.9V193.2H83.2V190.6H84.4V188.1H85.7V194.3H87.0V185.8H88.2V190.9H89.5V193.2H90.8V186.8H92.0V200.9H93.3V190.3H94.5V195.8H95.8V187.5H97.1V184.7H98.3V187.4H99.6V186.8H100.9V193.3H102.1V189.2H103.4V188.5H104.7V186.8H105.9V186.8H107.2V192.2H108.4V193.5H109.7V189.9H111.0V189.2H112.2V186.2H113.5V194.0H114.8V186.9H116.0V182.9H117.3V189.7H118.5V188.3H119.8V186.5H121.1V195.0H122.3V192.5H123.6V193.7H124.9V194.3H126.1V187.7H127.4V192.7H128.7V194.9H129.9V188.0H131.2V186.7H132.4V192.5H133.7V188.7H135.0V185.3H136.2V187.1H137.5V189.6H138.8V189.7H140.0V186.5H141.3V185.1H142.6V188.7H143.8V193.7H145.1V195.3H146.3V193.6H147.6V188.6H148.9V194.0H150.1V189.5H151.4V192.7H152.7V189.9H153.9V192.9H155.2V185.7H156.4V192.6H157.7V178.1H159.0V182.1H160.2V185.5H161.5V181.4H162.8V180.1H164.0V188.1H165.3V177.9H166.6V174.7H167.8V188.2H169.1V186.2H170.3V190.8H171.6V186.0H172.9V182.8H174.1V185.3H175.4V186.8H176.7V179.6H177.9V177.4H179.2V183.7H180.4V187.0H181.7V175.7H183.0V180.9H184.2V183.3H185.5V177.1H186.8V188.5H188.0V176.9H189.3V183.5H190.6V178.8H191.8V176.6H193.1V185.9H194.3V171.2H195.6V177.3H196.9V178.9H198.1V181.6H199.4V183.8H200.7V182.3H201.9V184.4H203.2V191.8H204.5V181.3H205.7V185.8H207.0V178.7H208.2V186.6H209.5V188.3H210.8V175.4H212.0V188.6H213.3V173.9H214.6V179.8H215.8V172.3H217.1V175.9H218.3V179.0H219.6V183.6H220.9V179.7H222.1V184.7H223.4V179.2H224.7V180.1H225.9V186.4H227.2V177.8H228.5V176.3H229.7V191.3H231.0V186.7H232.2V183.8H233.5V181.1H234.8V183.1H236.0V179.1H237.3V177.5H238.6V180.8H239.8V180.4H241.1V179.5H242.3V180.1H243.6V173.3H244.9V183.3H246.1V182.2H247.4V180.0H248.7V178.6H249.9V180.3H251.2V184.8H252.5V188.3H253.7V179.2H255.0V180.7H256.2V183.0H257.5V171.7H258.8V183.2H260.0V170.3H261.3V182.7H262.6V185.8H263.8V181.0H265.1V182.8H266.4V193.0H267.6V191.4H268.9V179.2H270.1V179.1H271.4V187.7H272.7V182.1H273.9V183.5H275.2V186.7H276.5V181.5H277.7V188.3H279.0V180.6H280.2V178.0H281.5V186.6H282.8V176.0H284.0V188.6H285.3V95.4Z" fill="#8aa2d4"/><path d="M37.7 95.4V193.1H39.0V189.7H40.2V189.5H41.5V193.9H42.8V190.5H44.0V188.0H45.3V185.7H46.5V193.9H47.8V190.8H49.1V191.1H50.3V188.1H51.6V186.0H52.9V187.8H54.1V189.0H55.4V195.4H56.6V195.0H57.9V195.4H59.2V192.8H60.4V184.6H61.7V183.1H63.0V187.5H64.2V190.5H65.5V193.2H66.8V184.0H68.0V188.0H69.3V184.2H70.5V179.8H71.8V190.6H73.1V192.5H74.3V190.6H75.6V192.6H76.9V195.0H78.1V185.3H79.4V186.0H80.7V190.6H81.9V193.2H83.2V190.6H84.4V186.4H85.7V192.6H87.0V185.8H88.2V190.9H89.5V191.4H90.8V186.4H92.0V200.9H93.3V188.4H94.5V193.8H95.8V187.5H97.1V184.7H98.3V187.4H99.6V186.0H100.9V193.3H102.1V189.2H103.4V187.2H104.7V186.8H105.9V185.8H107.2V190.3H108.4V192.3H109.7V189.9H111.0V189.2H112.2V186.2H113.5V194.0H114.8V186.9H116.0V180.6H117.3V189.7H118.5V186.3H119.8V186.5H121.1V194.1H122.3V192.5H123.6V193.2H124.9V193.1H126.1V187.7H127.4V192.7H128.7V194.1H129.9V188.0H131.2V185.4H132.4V190.3H133.7V187.3H135.0V183.5H136.2V185.2H137.5V187.3H138.8V189.0H140.0V185.1H141.3V184.1H142.6V188.7H143.8V193.7H145.1V193.5H146.3V193.1H147.6V188.6H148.9V194.0H150.1V189.5H151.4V191.2H152.7V189.9H153.9V192.5H155.2V185.7H156.4V192.6H157.7V177.7H159.0V182.1H160.2V184.5H161.5V181.4H162.8V178.6H164.0V188.1H165.3V177.9H166.6V174.0H167.8V188.2H169.1V185.8H170.3V189.3H171.6V185.3H172.9V182.8H174.1V185.3H175.4V186.4H176.7V179.6H177.9V177.4H179.2V182.6H180.4V184.8H181.7V175.7H183.0V178.7H184.2V181.1H185.5V177.1H186.8V188.5H188.0V176.9H189.3V183.5H190.6V178.8H191.8V176.6H193.1V185.9H194.3V170.1H195.6V177.3H196.9V178.9H198.1V180.7H199.4V183.8H200.7V182.3H201.9V184.4H203.2V191.8H204.5V181.3H205.7V185.8H207.0V178.1H208.2V186.6H209.5V188.3H210.8V175.4H212.0V188.6H213.3V172.0H214.6V178.0H215.8V170.2H217.1V175.9H218.3V177.2H219.6V181.3H220.9V179.1H222.1V182.9H223.4V179.2H224.7V179.3H225.9V185.2H227.2V177.8H228.5V175.1H229.7V190.2H231.0V184.9H232.2V182.0H233.5V181.1H234.8V183.1H236.0V179.1H237.3V177.5H238.6V180.8H239.8V178.4H241.1V177.6H242.3V180.1H243.6V173.3H244.9V181.6H246.1V180.1H247.4V180.0H248.7V177.1H249.9V179.1H251.2V182.5H252.5V188.3H253.7V179.2H255.0V178.6H256.2V181.3H257.5V169.6H258.8V183.2H260.0V168.0H261.3V180.4H262.6V183.6H263.8V180.3H265.1V182.8H266.4V192.5H267.6V191.4H268.9V177.4H270.1V179.1H271.4V187.7H272.7V181.0H273.9V181.3H275.2V186.7H276.5V181.5H277.7V187.2H279.0V180.6H280.2V178.0H281.5V186.6H282.8V176.0H284.0V188.6H285.3V95.4Z" fill="#e8708a"/><path d="M37.7 95.4V189.1H39.0V183.3H40.2V182.5H41.5V189.2H42.8V188.2H44.0V180.7H45.3V181.9H46.5V191.5H47.8V187.1H49.1V186.3H50.3V180.5H51.6V177.9H52.9V182.6H54.1V185.0H55.4V190.3H56.6V192.8H57.9V190.2H59.2V187.0H60.4V176.7H61.7V179.9H63.0V186.0H64.2V187.9H65.5V185.9H66.8V181.1H68.0V182.0H69.3V182.0H70.5V172.7H71.8V184.0H73.1V189.6H74.3V188.0H75.6V188.7H76.9V193.2H78.1V179.5H79.4V178.8H80.7V185.0H81.9V186.1H83.2V188.2H84.4V178.2H85.7V185.2H87.0V183.3H88.2V185.9H89.5V186.1H90.8V179.1H92.0V197.2H93.3V182.2H94.5V187.8H95.8V181.1H97.1V178.7H98.3V182.4H99.6V179.5H100.9V190.2H102.1V186.2H103.4V185.6H104.7V182.1H105.9V182.4H107.2V188.4H108.4V186.9H109.7V185.4H111.0V181.2H112.2V178.7H113.5V189.5H114.8V185.5H116.0V177.6H117.3V183.7H118.5V181.7H119.8V178.2H121.1V191.4H122.3V191.3H123.6V187.0H124.9V185.8H126.1V186.4H127.4V190.6H128.7V191.3H129.9V182.4H131.2V179.0H132.4V183.5H133.7V180.3H135.0V182.3H136.2V181.5H137.5V184.4H138.8V182.8H140.0V180.0H141.3V182.7H142.6V185.6H143.8V187.6H145.1V187.5H146.3V189.9H147.6V185.6H148.9V188.3H150.1V185.3H151.4V183.2H152.7V187.0H153.9V187.0H155.2V183.7H156.4V185.7H157.7V171.0H159.0V173.2H160.2V175.2H161.5V177.2H162.8V173.7H164.0V178.3H165.3V174.0H166.6V164.3H167.8V177.6H169.1V174.0H170.3V183.5H171.6V181.8H172.9V177.3H174.1V182.4H175.4V182.1H176.7V168.4H177.9V171.2H179.2V175.3H180.4V177.1H181.7V168.5H183.0V173.2H184.2V177.8H185.5V169.0H186.8V182.6H188.0V173.9H189.3V173.5H190.6V170.7H191.8V166.4H193.1V175.8H194.3V166.7H195.6V170.6H196.9V169.7H198.1V174.6H199.4V178.1H200.7V173.5H201.9V173.6H203.2V181.7H204.5V176.8H205.7V176.7H207.0V174.2H208.2V182.9H209.5V179.2H210.8V172.6H212.0V181.4H213.3V168.2H214.6V173.2H215.8V164.8H217.1V171.2H218.3V173.9H219.6V175.5H220.9V172.1H222.1V179.8H223.4V175.1H224.7V167.8H225.9V174.6H227.2V173.6H228.5V163.5H229.7V178.6H231.0V173.0H232.2V177.4H233.5V176.8H234.8V175.7H236.0V172.5H237.3V172.4H238.6V169.3H239.8V174.7H241.1V173.3H242.3V171.0H243.6V169.1H244.9V171.6H246.1V168.9H247.4V172.9H248.7V168.4H249.9V170.9H251.2V176.0H252.5V176.5H253.7V171.9H255.0V171.6H256.2V176.3H257.5V158.7H258.8V175.7H260.0V156.2H261.3V177.4H262.6V178.6H263.8V176.4H265.1V174.7H266.4V183.0H267.6V180.3H268.9V172.3H270.1V174.9H271.4V177.5H272.7V177.6H273.9V174.7H275.2V179.5H276.5V173.9H277.7V179.0H279.0V177.9H280.2V173.5H281.5V176.0H282.8V172.2H284.0V182.3H285.3V95.4Z" fill="#f3b0cc"/><path d="M37.7 95.4V183.2H39.0V181.1H40.2V180.3H41.5V185.5H42.8V187.0H44.0V176.3H45.3V180.2H46.5V190.2H47.8V184.0H49.1V182.7H50.3V179.1H51.6V176.7H52.9V177.1H54.1V181.7H55.4V188.3H56.6V188.3H57.9V186.3H59.2V186.0H60.4V174.9H61.7V177.3H63.0V181.4H64.2V186.8H65.5V180.7H66.8V175.6H68.0V179.1H69.3V179.3H70.5V169.8H71.8V178.4H73.1V188.6H74.3V186.0H75.6V183.5H76.9V191.7H78.1V174.0H79.4V177.2H80.7V181.8H81.9V184.5H83.2V183.3H84.4V174.5H85.7V180.4H87.0V181.1H88.2V183.9H89.5V183.9H90.8V174.1H92.0V192.8H93.3V177.4H94.5V183.2H95.8V178.1H97.1V174.6H98.3V181.3H99.6V173.8H100.9V187.6H102.1V185.1H103.4V182.5H104.7V176.7H105.9V178.7H107.2V186.8H108.4V181.2H109.7V179.8H111.0V176.4H112.2V177.8H113.5V188.5H114.8V184.8H116.0V173.9H117.3V181.5H118.5V177.7H119.8V172.6H121.1V187.5H122.3V187.9H123.6V185.3H124.9V182.4H126.1V185.0H127.4V186.8H128.7V187.9H129.9V177.3H131.2V176.8H132.4V180.0H133.7V178.8H135.0V180.1H136.2V180.0H137.5V181.7H138.8V181.7H140.0V177.9H141.3V178.5H142.6V182.7H143.8V183.0H145.1V185.6H146.3V188.2H147.6V183.7H148.9V183.3H150.1V182.9H151.4V180.0H152.7V183.4H153.9V185.3H155.2V178.2H156.4V184.9H157.7V162.7H159.0V169.8H160.2V170.0H161.5V170.7H162.8V169.2H164.0V174.9H165.3V172.6H166.6V158.5H167.8V175.1H169.1V170.5H170.3V182.2H171.6V174.5H172.9V171.6H174.1V178.5H175.4V176.8H176.7V165.9H177.9V169.7H179.2V174.1H180.4V175.5H181.7V162.5H183.0V166.0H184.2V173.1H185.5V164.5H186.8V180.0H188.0V170.9H189.3V168.9H190.6V166.4H191.8V162.3H193.1V173.7H194.3V161.6H195.6V164.0H196.9V163.6H198.1V170.6H199.4V170.1H200.7V165.9H201.9V171.5H203.2V180.3H204.5V169.4H205.7V168.6H207.0V167.5H208.2V181.6H209.5V174.8H210.8V171.1H212.0V175.7H213.3V162.6H214.6V169.9H215.8V159.2H217.1V168.1H218.3V166.0H219.6V169.1H220.9V169.7H222.1V175.4H223.4V172.3H224.7V164.3H225.9V168.8H227.2V171.9H228.5V155.9H229.7V171.9H231.0V171.7H232.2V170.5H233.5V173.4H234.8V168.9H236.0V170.7H237.3V167.8H238.6V165.8H239.8V169.7H241.1V168.8H242.3V169.0H243.6V164.0H244.9V167.3H246.1V167.4H247.4V165.0H248.7V161.9H249.9V164.1H251.2V173.4H252.5V170.2H253.7V170.6H255.0V168.4H256.2V172.4H257.5V157.3H258.8V168.4H260.0V154.0H261.3V176.1H262.6V171.1H263.8V174.1H265.1V172.2H266.4V176.7H267.6V178.3H268.9V164.1H270.1V170.0H271.4V172.9H272.7V170.7H273.9V170.7H275.2V177.4H276.5V169.9H277.7V173.8H279.0V175.1H280.2V169.1H281.5V173.3H282.8V166.0H284.0V177.4H285.3V95.4Z" fill="#9cb8ea"/><path d="M37.7 95.4V181.8H39.0V174.1H40.2V176.8H41.5V182.7H42.8V183.7H44.0V173.6H45.3V177.6H46.5V188.1H47.8V179.3H49.1V177.0H50.3V173.6H51.6V173.9H52.9V174.3H54.1V176.4H55.4V181.4H56.6V183.2H57.9V181.3H59.2V183.9H60.4V170.3H61.7V173.7H63.0V177.5H64.2V183.6H65.5V179.3H66.8V170.5H68.0V176.4H69.3V176.8H70.5V168.3H71.8V173.5H73.1V187.2H74.3V183.4H75.6V179.6H76.9V186.3H78.1V172.3H79.4V174.7H80.7V179.2H81.9V177.4H83.2V181.5H84.4V169.3H85.7V176.8H87.0V178.1H88.2V178.9H89.5V181.4H90.8V169.2H92.0V188.4H93.3V172.4H94.5V181.0H95.8V175.8H97.1V170.7H98.3V176.7H99.6V169.5H100.9V184.9H102.1V183.1H103.4V180.4H104.7V175.3H105.9V173.7H107.2V185.4H108.4V174.2H109.7V177.1H111.0V171.9H112.2V171.7H113.5V182.4H114.8V177.7H116.0V168.9H117.3V176.8H118.5V175.6H119.8V170.8H121.1V182.1H122.3V184.0H123.6V184.0H124.9V178.9H126.1V178.1H127.4V179.9H128.7V184.5H129.9V171.2H131.2V173.3H132.4V172.9H133.7V175.7H135.0V173.9H136.2V177.2H137.5V176.2H138.8V178.9H140.0V172.1H141.3V173.3H142.6V177.4H143.8V176.8H145.1V183.0H146.3V182.9H147.6V181.6H148.9V177.9H150.1V179.0H151.4V175.0H152.7V181.5H153.9V182.3H155.2V173.0H156.4V182.6H157.7V159.9H159.0V161.1H160.2V159.8H161.5V160.3H162.8V166.7H164.0V166.0H165.3V163.7H166.6V153.7H167.8V165.5H169.1V160.8H170.3V174.1H171.6V165.6H172.9V164.7H174.1V169.2H175.4V173.9H176.7V155.4H177.9V161.6H179.2V163.4H180.4V170.5H181.7V154.5H183.0V162.3H184.2V163.5H185.5V161.9H186.8V174.2H188.0V163.5H189.3V162.3H190.6V157.1H191.8V159.1H193.1V165.6H194.3V152.0H195.6V154.2H196.9V158.9H198.1V160.2H199.4V165.5H200.7V162.4H201.9V163.2H203.2V171.0H204.5V158.7H205.7V159.9H207.0V161.1H208.2V177.5H209.5V171.9H210.8V166.7H212.0V168.4H213.3V152.1H214.6V164.6H215.8V153.7H217.1V165.5H218.3V160.8H219.6V165.5H220.9V165.4H222.1V170.3H223.4V164.9H224.7V158.5H225.9V159.4H227.2V162.0H228.5V151.5H229.7V162.5H231.0V168.4H232.2V161.4H233.5V165.4H234.8V165.6H236.0V165.0H237.3V159.5H238.6V156.3H239.8V164.5H241.1V163.1H242.3V158.9H243.6V157.4H244.9V159.9H246.1V157.1H247.4V158.6H248.7V151.6H249.9V159.5H251.2V164.8H252.5V166.4H253.7V161.6H255.0V158.3H256.2V162.4H257.5V151.0H258.8V162.3H260.0V146.8H261.3V169.1H262.6V164.4H263.8V166.8H265.1V169.2H266.4V170.0H267.6V171.8H268.9V158.1H270.1V163.5H271.4V164.4H272.7V162.1H273.9V163.3H275.2V173.2H276.5V160.8H277.7V169.0H279.0V164.7H280.2V159.8H281.5V163.4H282.8V159.7H284.0V173.7H285.3V95.4Z" fill="#c890d0"/><path d="M37.7 95.4V181.0H39.0V174.1H40.2V176.3H41.5V182.7H42.8V183.7H44.0V173.6H45.3V177.6H46.5V186.6H47.8V179.3H49.1V177.0H50.3V173.6H51.6V173.4H52.9V173.7H54.1V176.4H55.4V181.4H56.6V183.2H57.9V179.8H59.2V183.9H60.4V170.3H61.7V173.7H63.0V177.1H64.2V183.6H65.5V179.3H66.8V170.5H68.0V176.0H69.3V175.9H70.5V167.4H71.8V173.5H73.1V187.2H74.3V183.4H75.6V179.6H76.9V186.3H78.1V171.5H79.4V174.7H80.7V179.2H81.9V177.4H83.2V181.5H84.4V168.1H85.7V176.8H87.0V178.1H88.2V178.1H89.5V181.0H90.8V168.7H92.0V186.9H93.3V172.4H94.5V181.0H95.8V175.8H97.1V169.8H98.3V176.7H99.6V169.5H100.9V184.9H102.1V183.1H103.4V180.4H104.7V175.3H105.9V173.7H107.2V185.4H108.4V172.9H109.7V176.7H111.0V171.9H112.2V171.7H113.5V182.4H114.8V177.7H116.0V168.9H117.3V176.2H118.5V175.6H119.8V169.4H121.1V181.7H122.3V184.0H123.6V184.0H124.9V178.9H126.1V178.1H127.4V179.9H128.7V184.5H129.9V171.2H131.2V173.3H132.4V172.9H133.7V175.7H135.0V172.8H136.2V177.2H137.5V176.2H138.8V178.9H140.0V172.1H141.3V173.3H142.6V177.4H143.8V175.5H145.1V183.0H146.3V182.9H147.6V181.6H148.9V177.9H150.1V179.0H151.4V174.3H152.7V180.6H153.9V182.3H155.2V173.0H156.4V182.6H157.7V159.2H159.0V161.1H160.2V159.8H161.5V160.3H162.8V166.7H164.0V164.9H165.3V163.7H166.6V152.1H167.8V163.7H169.1V159.8H170.3V174.1H171.6V165.6H172.9V163.0H174.1V168.7H175.4V173.1H176.7V155.4H177.9V161.6H179.2V161.8H180.4V170.5H181.7V152.8H183.0V162.3H184.2V163.0H185.5V160.7H186.8V174.2H188.0V163.5H189.3V162.3H190.6V155.4H191.8V159.1H193.1V164.9H194.3V152.0H195.6V153.4H196.9V158.9H198.1V160.2H199.4V165.5H200.7V162.4H201.9V162.8H203.2V171.0H204.5V158.7H205.7V159.9H207.0V161.1H208.2V177.5H209.5V171.9H210.8V166.7H212.0V168.4H213.3V150.7H214.6V164.6H215.8V152.6H217.1V165.5H218.3V159.2H219.6V165.5H220.9V165.4H222.1V170.3H223.4V163.9H224.7V157.6H225.9V159.4H227.2V161.3H228.5V151.5H229.7V162.5H231.0V167.5H232.2V160.0H233.5V165.4H234.8V164.3H236.0V164.3H237.3V159.5H238.6V156.3H239.8V164.5H241.1V163.1H242.3V158.9H243.6V157.4H244.9V159.9H246.1V157.1H247.4V158.0H248.7V151.6H249.9V159.5H251.2V164.8H252.5V166.4H253.7V161.6H255.0V158.3H256.2V162.4H257.5V151.0H258.8V162.3H260.0V146.8H261.3V167.5H262.6V164.4H263.8V166.8H265.1V169.2H266.4V170.0H267.6V171.8H268.9V158.1H270.1V163.5H271.4V164.4H272.7V162.1H273.9V163.3H275.2V173.2H276.5V160.8H277.7V169.0H279.0V164.7H280.2V159.8H281.5V163.0H282.8V158.0H284.0V173.7H285.3V95.4Z" fill="#f2aab4"/><path d="M37.7 95.4V162.0H39.0V169.5H40.2V154.0H41.5V179.1H42.8V179.9H44.0V149.0H45.3V156.7H46.5V175.5H47.8V168.2H49.1V165.8H50.3V144.8H51.6V169.5H52.9V169.1H54.1V145.7H55.4V169.2H56.6V179.3H57.9V170.6H59.2V178.2H60.4V165.5H61.7V161.8H63.0V167.2H64.2V169.2H65.5V175.5H66.8V154.5H68.0V166.8H69.3V157.4H70.5V139.6H71.8V152.4H73.1V157.8H74.3V178.5H75.6V173.9H76.9V168.6H78.1V148.9H79.4V167.8H80.7V169.2H81.9V169.8H83.2V173.5H84.4V155.4H85.7V155.0H87.0V174.1H88.2V146.8H89.5V152.1H90.8V158.2H92.0V181.5H93.3V165.9H94.5V173.8H95.8V157.7H97.1V163.6H98.3V168.6H99.6V164.1H100.9V171.7H102.1V177.5H103.4V172.7H104.7V165.7H105.9V146.4H107.2V175.4H108.4V165.4H109.7V165.1H111.0V144.7H112.2V161.3H113.5V157.4H114.8V166.8H116.0V157.3H117.3V155.3H118.5V153.2H119.8V163.4H121.1V171.3H122.3V159.1H123.6V175.4H124.9V167.4H126.1V168.0H127.4V158.8H128.7V164.5H129.9V163.2H131.2V154.1H132.4V165.0H133.7V163.9H135.0V164.3H136.2V172.8H137.5V151.2H138.8V155.5H140.0V165.3H141.3V166.8H142.6V152.0H143.8V166.6H145.1V175.1H146.3V164.5H147.6V177.8H148.9V166.7H150.1V169.9H151.4V148.5H152.7V172.7H153.9V172.8H155.2V154.3H156.4V172.2H157.7V153.0H159.0V149.2H160.2V151.8H161.5V124.4H162.8V153.1H164.0V150.8H165.3V156.6H166.6V118.2H167.8V142.9H169.1V153.9H170.3V163.1H171.6V129.6H172.9V156.1H174.1V146.4H175.4V166.6H176.7V121.9H177.9V151.6H179.2V141.0H180.4V160.7H181.7V119.2H183.0V149.9H184.2V152.5H185.5V129.6H186.8V155.8H188.0V128.6H189.3V150.1H190.6V143.1H191.8V148.1H193.1V159.7H194.3V114.2H195.6V141.6H196.9V152.6H198.1V125.2H199.4V139.4H200.7V138.5H201.9V151.3H203.2V144.1H204.5V146.2H205.7V146.1H207.0V146.9H208.2V160.9H209.5V143.0H210.8V131.0H212.0V148.7H213.3V130.8H214.6V140.1H215.8V142.7H217.1V142.0H218.3V120.7H219.6V138.5H220.9V148.8H222.1V163.6H223.4V139.3H224.7V149.5H225.9V117.9H227.2V128.6H228.5V117.9H229.7V151.6H231.0V153.8H232.2V154.3H233.5V146.8H234.8V141.4H236.0V158.6H237.3V137.1H238.6V129.0H239.8V125.7H241.1V150.6H242.3V153.8H243.6V117.5H244.9V136.7H246.1V140.4H247.4V151.4H248.7V119.1H249.9V136.6H251.2V143.6H252.5V145.5H253.7V152.8H255.0V152.7H256.2V148.6H257.5V141.7H258.8V156.6H260.0V113.8H261.3V160.8H262.6V156.6H263.8V136.4H265.1V155.6H266.4V163.6H267.6V140.4H268.9V130.0H270.1V137.4H271.4V157.5H272.7V140.3H273.9V140.8H275.2V165.5H276.5V131.1H277.7V163.4H279.0V153.4H280.2V149.6H281.5V141.0H282.8V145.7H284.0V160.1H285.3V95.4Z" fill="#98d8cc"/><path d="M37.7 95.4V162.0H39.0V168.7H40.2V152.9H41.5V179.1H42.8V179.3H44.0V149.0H45.3V156.7H46.5V175.5H47.8V168.2H49.1V165.8H50.3V143.4H51.6V169.5H52.9V168.8H54.1V145.7H55.4V169.2H56.6V179.3H57.9V170.6H59.2V178.2H60.4V164.3H61.7V161.8H63.0V167.2H64.2V169.2H65.5V175.5H66.8V154.5H68.0V166.8H69.3V157.4H70.5V139.6H71.8V152.4H73.1V157.8H74.3V178.5H75.6V172.9H76.9V168.6H78.1V148.9H79.4V167.3H80.7V168.4H81.9V168.6H83.2V173.5H84.4V155.4H85.7V155.0H87.0V174.1H88.2V145.7H89.5V150.8H90.8V157.0H92.0V181.2H93.3V165.9H94.5V173.0H95.8V157.0H97.1V163.6H98.3V168.6H99.6V163.7H100.9V171.2H102.1V176.2H103.4V172.7H104.7V165.7H105.9V146.4H107.2V175.4H108.4V164.9H109.7V165.1H111.0V144.7H112.2V160.1H113.5V157.4H114.8V165.7H116.0V157.3H117.3V155.3H118.5V151.9H119.8V162.0H121.1V171.3H122.3V159.1H123.6V175.4H124.9V166.8H126.1V168.0H127.4V158.5H128.7V163.6H129.9V163.2H131.2V154.1H132.4V165.0H133.7V162.6H135.0V164.3H136.2V172.8H137.5V151.2H138.8V155.5H140.0V165.3H141.3V166.8H142.6V151.7H143.8V166.6H145.1V175.1H146.3V164.5H147.6V177.4H148.9V166.7H150.1V169.3H151.4V148.5H152.7V171.9H153.9V172.8H155.2V154.3H156.4V172.2H157.7V153.0H159.0V149.2H160.2V151.3H161.5V124.4H162.8V152.1H164.0V150.8H165.3V156.6H166.6V118.2H167.8V141.6H169.1V152.8H170.3V163.1H171.6V129.6H172.9V156.1H174.1V146.4H175.4V165.4H176.7V120.8H177.9V151.1H179.2V141.0H180.4V160.7H181.7V118.8H183.0V149.2H184.2V151.2H185.5V129.6H186.8V155.8H188.0V128.6H189.3V150.1H190.6V143.1H191.8V148.1H193.1V159.7H194.3V114.2H195.6V140.3H196.9V152.6H198.1V125.2H199.4V139.4H200.7V138.5H201.9V151.3H203.2V144.1H204.5V146.2H205.7V146.1H207.0V146.9H208.2V160.9H209.5V143.0H210.8V131.0H212.0V148.0H213.3V130.8H214.6V140.1H215.8V142.7H217.1V142.0H218.3V120.7H219.6V138.0H220.9V148.8H222.1V162.2H223.4V138.9H224.7V148.3H225.9V116.6H227.2V128.6H228.5V117.4H229.7V151.6H231.0V153.8H232.2V154.3H233.5V146.8H234.8V140.7H236.0V158.6H237.3V135.9H238.6V129.0H239.8V125.7H241.1V150.6H242.3V153.8H243.6V117.5H244.9V136.7H246.1V140.4H247.4V150.3H248.7V119.1H249.9V136.6H251.2V143.6H252.5V144.6H253.7V152.8H255.0V151.6H256.2V148.6H257.5V141.7H258.8V156.6H260.0V113.3H261.3V160.8H262.6V156.6H263.8V136.4H265.1V155.6H266.4V163.6H267.6V140.4H268.9V130.0H270.1V136.8H271.4V157.5H272.7V140.3H273.9V140.1H275.2V165.5H276.5V131.1H277.7V162.4H279.0V153.4H280.2V149.6H281.5V141.0H282.8V144.6H284.0V160.1H285.3V95.4Z" fill="#dfe790"/><path d="M37.7 95.4V96.8H39.0V96.2H40.2V115.2H41.5V100.0H42.8V97.4H44.0V126.3H45.3V98.0H46.5V98.7H47.8V98.2H49.1V98.1H50.3V97.7H51.6V99.8H52.9V96.8H54.1V97.7H55.4V118.2H56.6V99.1H57.9V98.1H59.2V112.0H60.4V98.1H61.7V107.6H63.0V96.5H64.2V99.1H65.5V115.2H66.8V118.7H68.0V97.8H69.3V99.7H70.5V96.1H71.8V100.0H73.1V107.5H74.3V97.7H75.6V114.6H76.9V98.4H78.1V117.8H79.4V99.0H80.7V116.3H81.9V114.2H83.2V98.3H84.4V98.1H85.7V98.7H87.0V96.0H88.2V99.9H89.5V105.7H90.8V96.9H92.0V96.8H93.3V96.4H94.5V110.0H95.8V99.3H97.1V99.0H98.3V99.5H99.6V99.2H100.9V97.3H102.1V128.4H103.4V96.0H104.7V97.5H105.9V96.2H107.2V99.4H108.4V122.9H109.7V113.1H111.0V97.4H112.2V99.4H113.5V98.2H114.8V97.8H116.0V96.7H117.3V108.7H118.5V97.1H119.8V96.1H121.1V97.7H122.3V97.3H123.6V96.4H124.9V97.8H126.1V99.7H127.4V96.5H128.7V98.1H129.9V98.0H131.2V98.1H132.4V97.5H133.7V98.9H135.0V97.1H136.2V97.9H137.5V114.4H138.8V96.7H140.0V109.6H141.3V97.0H142.6V99.6H143.8V98.1H145.1V97.2H146.3V105.2H147.6V98.7H148.9V96.7H150.1V97.8H151.4V122.3H152.7V99.6H153.9V99.6H155.2V107.9H156.4V96.7H157.7V97.5H159.0V98.6H160.2V98.7H161.5V97.1H162.8V99.2H164.0V107.1H165.3V97.8H166.6V97.6H167.8V97.1H169.1V97.1H170.3V100.1H171.6V98.6H172.9V99.2H174.1V99.5H175.4V96.9H176.7V98.0H177.9V96.9H179.2V98.4H180.4V97.6H181.7V96.9H183.0V98.9H184.2V99.6H185.5V97.9H186.8V112.6H188.0V97.8H189.3V97.3H190.6V100.0H191.8V99.6H193.1V97.9H194.3V96.9H195.6V99.8H196.9V97.8H198.1V98.9H199.4V98.1H200.7V99.0H201.9V99.5H203.2V98.6H204.5V96.8H205.7V96.8H207.0V99.5H208.2V112.0H209.5V99.2H210.8V99.9H212.0V96.6H213.3V98.5H214.6V99.9H215.8V98.5H217.1V98.7H218.3V99.0H219.6V99.4H220.9V99.9H222.1V98.3H223.4V99.3H224.7V96.6H225.9V104.6H227.2V98.5H228.5V97.4H229.7V105.4H231.0V102.5H232.2V109.3H233.5V107.0H234.8V104.9H236.0V103.3H237.3V101.1H238.6V99.9H239.8V106.8H241.1V102.9H242.3V99.8H243.6V100.5H244.9V99.0H246.1V102.8H247.4V102.4H248.7V101.8H249.9V101.8H251.2V102.0H252.5V99.3H253.7V107.0H255.0V106.6H256.2V105.3H257.5V100.5H258.8V100.9H260.0V101.4H261.3V106.7H262.6V105.9H263.8V102.1H265.1V103.3H266.4V104.0H267.6V106.8H268.9V106.3H270.1V103.2H271.4V105.3H272.7V106.1H273.9V101.8H275.2V107.2H276.5V102.8H277.7V101.7H279.0V100.4H280.2V105.9H281.5V100.3H282.8V101.1H284.0V105.0H285.3V95.4Z" fill="#a6d4ee"/></g>
<defs><pattern id="sep" x="37.70" y="0" width="2.5265" height="10" patternUnits="userSpaceOnUse"><rect x="0" y="0" width="0.35" height="10" fill="#fff" fill-opacity="0.5"/></pattern></defs>
<rect x="37.70" y="95.40" width="247.60" height="119.40" fill="url(#sep)"/>
<text x="98.10" y="224.70" font-size="8.1" fill="#303030" text-anchor="middle" textLength="50.00" lengthAdjust="spacingAndGlyphs" stroke="#303030" stroke-width="0.18">Immune-silent</text>
<text x="222.20" y="224.70" font-size="8.1" fill="#303030" text-anchor="middle" textLength="72.70" lengthAdjust="spacingAndGlyphs" stroke="#303030" stroke-width="0.18">Immune-suppressive</text>
<rect x="37.50" y="227.80" width="118.80" height="4.00" fill="#a6dacd"/>
<rect x="157.70" y="227.80" width="127.60" height="4.00" fill="#f8d57a"/>
<text x="289.40" y="15.20" font-size="10.5" fill="#111" text-anchor="start" font-weight="bold">B</text>
<rect x="345.30" y="35.40" width="6.50" height="6.50" fill="#cc1f37" stroke="#444" stroke-width="0.6"/>
<text x="354.80" y="41.40" font-size="7.9" fill="#303030" text-anchor="start" textLength="25.40" lengthAdjust="spacingAndGlyphs" stroke="#303030" stroke-width="0.18">Positive</text>
<rect x="386.40" y="35.40" width="6.50" height="6.50" fill="#ffffff" stroke="#444" stroke-width="0.6"/>
<text x="395.80" y="41.40" font-size="7.9" fill="#303030" text-anchor="start" textLength="29.40" lengthAdjust="spacingAndGlyphs" stroke="#303030" stroke-width="0.18">Negative</text>
<rect x="431.50" y="35.40" width="6.50" height="6.50" fill="#c4c4c8" stroke="#444" stroke-width="0.6"/>
<text x="440.40" y="41.40" font-size="7.9" fill="#303030" text-anchor="start" textLength="25.60" lengthAdjust="spacingAndGlyphs" stroke="#303030" stroke-width="0.18">Missing</text>
<rect x="330.80" y="47.90" width="74.60" height="9.00" fill="#a8dcd0"/>
<rect x="405.40" y="47.90" width="79.20" height="9.00" fill="#fad87e"/>
<text x="368.50" y="55.20" font-size="8.1" fill="#303030" text-anchor="middle" textLength="49.60" lengthAdjust="spacingAndGlyphs" stroke="#303030" stroke-width="0.18">Immune-silent</text>
<text x="445.00" y="55.20" font-size="8.1" fill="#303030" text-anchor="middle" textLength="72.50" lengthAdjust="spacingAndGlyphs" stroke="#303030" stroke-width="0.18">Immune-suppressive</text>
<rect x="289.20" y="60.10" width="39.70" height="9.60" fill="#f7941d"/>
<rect x="330.90" y="59.30" width="153.70" height="10.10" fill="#ffffff"/>
<rect x="331.00" y="59.30" width="9.60" height="10.10" fill="#cc1f37"/>
<rect x="405.50" y="59.30" width="45.40" height="10.10" fill="#cc1f37"/>
<rect x="330.90" y="59.30" width="153.70" height="10.10" fill="none" stroke="#6e6e6e" stroke-width="0.8"/>
<text x="487.50" y="66.65" font-size="8.0" fill="#303030" text-anchor="start" textLength="15.90" lengthAdjust="spacingAndGlyphs" stroke="#303030" stroke-width="0.18">CD3</text>
<rect x="293.10" y="72.12" width="35.80" height="9.60" fill="#f7941d"/>
<rect x="330.90" y="71.32" width="153.70" height="10.10" fill="#ffffff"/>
<rect x="341.00" y="71.32" width="4.20" height="10.10" fill="#c4c4c8"/>
<rect x="345.50" y="71.32" width="4.30" height="10.10" fill="#cc1f37"/>
<rect x="405.50" y="71.32" width="26.10" height="10.10" fill="#cc1f37"/>
<rect x="451.60" y="71.32" width="9.00" height="10.10" fill="#cc1f37"/>
<rect x="330.90" y="71.32" width="153.70" height="10.10" fill="none" stroke="#6e6e6e" stroke-width="0.8"/>
<text x="487.50" y="78.67" font-size="8.0" fill="#303030" text-anchor="start" textLength="15.90" lengthAdjust="spacingAndGlyphs" stroke="#303030" stroke-width="0.18">CD8</text>
<rect x="297.20" y="84.14" width="31.70" height="9.60" fill="#f7941d"/>
<rect x="330.90" y="83.34" width="153.70" height="10.10" fill="#ffffff"/>
<rect x="331.00" y="83.34" width="2.50" height="10.10" fill="#cc1f37"/>
<rect x="346.00" y="83.34" width="1.50" height="10.10" fill="#c4c4c8"/>
<rect x="351.40" y="83.34" width="6.00" height="10.10" fill="#c4c4c8"/>
<rect x="357.60" y="83.34" width="6.90" height="10.10" fill="#cc1f37"/>
<rect x="405.50" y="83.34" width="18.50" height="10.10" fill="#cc1f37"/>
<rect x="432.50" y="83.34" width="6.00" height="10.10" fill="#cc1f37"/>
<rect x="451.30" y="83.34" width="6.70" height="10.10" fill="#cc1f37"/>
<rect x="461.80" y="83.34" width="0.80" height="10.10" fill="#c4c4c8"/>
<rect x="463.00" y="83.34" width="9.50" height="10.10" fill="#cc1f37"/>
<rect x="330.90" y="83.34" width="153.70" height="10.10" fill="none" stroke="#6e6e6e" stroke-width="0.8"/>
<text x="487.50" y="90.69" font-size="8.0" fill="#303030" text-anchor="start" textLength="18.30" lengthAdjust="spacingAndGlyphs" stroke="#303030" stroke-width="0.18">PDL1</text>
<rect x="300.90" y="96.16" width="28.00" height="9.60" fill="#f7941d"/>
<rect x="330.90" y="95.36" width="153.70" height="10.10" fill="#ffffff"/>
<rect x="331.80" y="95.36" width="3.20" height="10.10" fill="#c4c4c8"/>
<rect x="341.00" y="95.36" width="1.50" height="10.10" fill="#c4c4c8"/>
<rect x="346.50" y="95.36" width="2.00" height="10.10" fill="#c4c4c8"/>
<rect x="352.30" y="95.36" width="6.80" height="10.10" fill="#cc1f37"/>
<rect x="366.80" y="95.36" width="12.40" height="10.10" fill="#cc1f37"/>
<rect x="407.30" y="95.36" width="14.40" height="10.10" fill="#cc1f37"/>
<rect x="424.80" y="95.36" width="9.20" height="10.10" fill="#cc1f37"/>
<rect x="440.00" y="95.36" width="1.00" height="10.10" fill="#c4c4c8"/>
<rect x="441.50" y="95.36" width="13.70" height="10.10" fill="#cc1f37"/>
<rect x="458.50" y="95.36" width="2.10" height="10.10" fill="#cc1f37"/>
<rect x="463.50" y="95.36" width="6.80" height="10.10" fill="#cc1f37"/>
<rect x="473.50" y="95.36" width="3.80" height="10.10" fill="#cc1f37"/>
<rect x="330.90" y="95.36" width="153.70" height="10.10" fill="none" stroke="#6e6e6e" stroke-width="0.8"/>
<text x="487.50" y="102.71" font-size="8.0" fill="#303030" text-anchor="start" textLength="24.70" lengthAdjust="spacingAndGlyphs" stroke="#303030" stroke-width="0.18">CD163</text>
<rect x="303.00" y="108.18" width="25.90" height="9.60" fill="#f7941d"/>
<rect x="330.90" y="107.38" width="153.70" height="10.10" fill="#ffffff"/>
<rect x="333.50" y="107.38" width="7.20" height="10.10" fill="#cc1f37"/>
<rect x="364.80" y="107.38" width="4.00" height="10.10" fill="#cc1f37"/>
<rect x="379.20" y="107.38" width="1.50" height="10.10" fill="#cc1f37"/>
<rect x="405.50" y="107.38" width="11.50" height="10.10" fill="#cc1f37"/>
<rect x="422.50" y="107.38" width="6.70" height="10.10" fill="#cc1f37"/>
<rect x="432.50" y="107.38" width="6.20" height="10.10" fill="#cc1f37"/>
<rect x="441.50" y="107.38" width="1.60" height="10.10" fill="#cc1f37"/>
<rect x="452.90" y="107.38" width="5.40" height="10.10" fill="#cc1f37"/>
<rect x="462.00" y="107.38" width="3.20" height="10.10" fill="#cc1f37"/>
<rect x="471.10" y="107.38" width="4.20" height="10.10" fill="#cc1f37"/>
<rect x="479.00" y="107.38" width="1.50" height="10.10" fill="#cc1f37"/>
<rect x="330.90" y="107.38" width="153.70" height="10.10" fill="none" stroke="#6e6e6e" stroke-width="0.8"/>
<text x="487.50" y="114.73" font-size="8.0" fill="#303030" text-anchor="start" textLength="25.20" lengthAdjust="spacingAndGlyphs" stroke="#303030" stroke-width="0.18">FOXP3</text>
<rect x="305.80" y="120.20" width="23.10" height="9.60" fill="#f7941d"/>
<rect x="330.90" y="119.40" width="153.70" height="10.10" fill="#ffffff"/>
<rect x="331.00" y="119.40" width="7.30" height="10.10" fill="#cc1f37"/>
<rect x="341.00" y="119.40" width="3.80" height="10.10" fill="#c4c4c8"/>
<rect x="347.80" y="119.40" width="2.80" height="10.10" fill="#cc1f37"/>
<rect x="364.80" y="119.40" width="11.80" height="10.10" fill="#cc1f37"/>
<rect x="381.50" y="119.40" width="11.60" height="10.10" fill="#cc1f37"/>
<rect x="405.60" y="119.40" width="16.50" height="10.10" fill="#cc1f37"/>
<rect x="425.20" y="119.40" width="1.80" height="10.10" fill="#cc1f37"/>
<rect x="429.60" y="119.40" width="23.60" height="10.10" fill="#cc1f37"/>
<rect x="458.90" y="119.40" width="6.60" height="10.10" fill="#cc1f37"/>
<rect x="468.40" y="119.40" width="12.10" height="10.10" fill="#cc1f37"/>
<rect x="330.90" y="119.40" width="153.70" height="10.10" fill="none" stroke="#6e6e6e" stroke-width="0.8"/>
<text x="487.50" y="126.75" font-size="8.0" fill="#303030" text-anchor="start" textLength="15.70" lengthAdjust="spacingAndGlyphs" stroke="#303030" stroke-width="0.18">CD4</text>
<rect x="303.70" y="132.22" width="25.20" height="9.60" fill="#f7941d"/>
<rect x="330.90" y="131.42" width="153.70" height="10.10" fill="#ffffff"/>
<rect x="331.00" y="131.42" width="7.00" height="10.10" fill="#cc1f37"/>
<rect x="341.00" y="131.42" width="1.50" height="10.10" fill="#c4c4c8"/>
<rect x="345.50" y="131.42" width="5.10" height="10.10" fill="#cc1f37"/>
<rect x="357.60" y="131.42" width="6.90" height="10.10" fill="#cc1f37"/>
<rect x="367.00" y="131.42" width="4.90" height="10.10" fill="#cc1f37"/>
<rect x="381.50" y="131.42" width="2.30" height="10.10" fill="#cc1f37"/>
<rect x="405.60" y="131.42" width="8.70" height="10.10" fill="#cc1f37"/>
<rect x="417.00" y="131.42" width="2.00" height="10.10" fill="#c4c4c8"/>
<rect x="419.80" y="131.42" width="2.30" height="10.10" fill="#cc1f37"/>
<rect x="427.70" y="131.42" width="3.40" height="10.10" fill="#cc1f37"/>
<rect x="434.30" y="131.42" width="5.20" height="10.10" fill="#cc1f37"/>
<rect x="441.90" y="131.42" width="3.90" height="10.10" fill="#cc1f37"/>
<rect x="454.50" y="131.42" width="2.00" height="10.10" fill="#cc1f37"/>
<rect x="458.90" y="131.42" width="25.70" height="10.10" fill="#cc1f37"/>
<rect x="330.90" y="131.42" width="153.70" height="10.10" fill="none" stroke="#6e6e6e" stroke-width="0.8"/>
<text x="487.50" y="138.77" font-size="8.0" fill="#303030" text-anchor="start" textLength="20.30" lengthAdjust="spacingAndGlyphs" stroke="#303030" stroke-width="0.18">CD68</text>
<rect x="311.30" y="144.24" width="17.60" height="9.60" fill="#f7941d"/>
<rect x="330.90" y="143.44" width="153.70" height="10.10" fill="#ffffff"/>
<rect x="331.00" y="143.44" width="9.10" height="10.10" fill="#cc1f37"/>
<rect x="347.50" y="143.44" width="3.10" height="10.10" fill="#cc1f37"/>
<rect x="359.90" y="143.44" width="2.30" height="10.10" fill="#cc1f37"/>
<rect x="366.80" y="143.44" width="7.30" height="10.10" fill="#cc1f37"/>
<rect x="378.70" y="143.44" width="2.80" height="10.10" fill="#cc1f37"/>
<rect x="383.80" y="143.44" width="2.30" height="10.10" fill="#cc1f37"/>
<rect x="405.60" y="143.44" width="1.90" height="10.10" fill="#cc1f37"/>
<rect x="422.60" y="143.44" width="31.10" height="10.10" fill="#cc1f37"/>
<rect x="456.00" y="143.44" width="5.10" height="10.10" fill="#cc1f37"/>
<rect x="468.70" y="143.44" width="11.80" height="10.10" fill="#cc1f37"/>
<rect x="330.90" y="143.44" width="153.70" height="10.10" fill="none" stroke="#6e6e6e" stroke-width="0.8"/>
<text x="487.50" y="150.79" font-size="8.0" fill="#303030" text-anchor="start" textLength="14.50" lengthAdjust="spacingAndGlyphs" stroke="#303030" stroke-width="0.18">PD1</text>
<rect x="317.80" y="156.26" width="11.10" height="9.60" fill="#f7941d"/>
<rect x="330.90" y="155.46" width="153.70" height="10.10" fill="#ffffff"/>
<rect x="331.00" y="155.46" width="4.20" height="10.10" fill="#c4c4c8"/>
<rect x="338.00" y="155.46" width="7.20" height="10.10" fill="#c4c4c8"/>
<rect x="352.20" y="155.46" width="2.70" height="10.10" fill="#cc1f37"/>
<rect x="357.60" y="155.46" width="4.10" height="10.10" fill="#cc1f37"/>
<rect x="366.00" y="155.46" width="1.00" height="10.10" fill="#c4c4c8"/>
<rect x="367.00" y="155.46" width="2.50" height="10.10" fill="#cc1f37"/>
<rect x="372.00" y="155.46" width="4.10" height="10.10" fill="#cc1f37"/>
<rect x="379.50" y="155.46" width="1.50" height="10.10" fill="#c4c4c8"/>
<rect x="386.50" y="155.46" width="1.00" height="10.10" fill="#c4c4c8"/>
<rect x="396.20" y="155.46" width="2.30" height="10.10" fill="#cc1f37"/>
<rect x="406.00" y="155.46" width="3.00" height="10.10" fill="#cc1f37"/>
<rect x="415.00" y="155.46" width="1.50" height="10.10" fill="#cc1f37"/>
<rect x="420.00" y="155.46" width="13.50" height="10.10" fill="#cc1f37"/>
<rect x="438.50" y="155.46" width="4.50" height="10.10" fill="#c4c4c8"/>
<rect x="444.00" y="155.46" width="2.00" height="10.10" fill="#cc1f37"/>
<rect x="446.00" y="155.46" width="1.00" height="10.10" fill="#c4c4c8"/>
<rect x="455.50" y="155.46" width="9.50" height="10.10" fill="#cc1f37"/>
<rect x="470.00" y="155.46" width="2.00" height="10.10" fill="#c4c4c8"/>
<rect x="473.00" y="155.46" width="9.00" height="10.10" fill="#cc1f37"/>
<rect x="330.90" y="155.46" width="153.70" height="10.10" fill="none" stroke="#6e6e6e" stroke-width="0.8"/>
<text x="487.50" y="162.81" font-size="8.0" fill="#303030" text-anchor="start" textLength="19.60" lengthAdjust="spacingAndGlyphs" stroke="#303030" stroke-width="0.18">CD21</text>
<rect x="318.30" y="168.28" width="10.60" height="9.60" fill="#f7941d"/>
<rect x="330.90" y="167.48" width="153.70" height="10.10" fill="#ffffff"/>
<rect x="331.00" y="167.48" width="4.20" height="10.10" fill="#c4c4c8"/>
<rect x="338.00" y="167.48" width="1.50" height="10.10" fill="#c4c4c8"/>
<rect x="347.50" y="167.48" width="3.10" height="10.10" fill="#cc1f37"/>
<rect x="364.20" y="167.48" width="2.30" height="10.10" fill="#c4c4c8"/>
<rect x="369.50" y="167.48" width="2.40" height="10.10" fill="#cc1f37"/>
<rect x="378.50" y="167.48" width="3.00" height="10.10" fill="#c4c4c8"/>
<rect x="386.50" y="167.48" width="2.40" height="10.10" fill="#cc1f37"/>
<rect x="393.90" y="167.48" width="1.50" height="10.10" fill="#c4c4c8"/>
<rect x="408.00" y="167.48" width="9.00" height="10.10" fill="#cc1f37"/>
<rect x="417.00" y="167.48" width="3.00" height="10.10" fill="#c4c4c8"/>
<rect x="420.00" y="167.48" width="2.50" height="10.10" fill="#cc1f37"/>
<rect x="437.00" y="167.48" width="2.00" height="10.10" fill="#cc1f37"/>
<rect x="439.00" y="167.48" width="2.00" height="10.10" fill="#c4c4c8"/>
<rect x="451.00" y="167.48" width="2.00" height="10.10" fill="#c4c4c8"/>
<rect x="454.00" y="167.48" width="4.50" height="10.10" fill="#cc1f37"/>
<rect x="466.00" y="167.48" width="2.00" height="10.10" fill="#cc1f37"/>
<rect x="470.50" y="167.48" width="2.30" height="10.10" fill="#cc1f37"/>
<rect x="481.00" y="167.48" width="1.50" height="10.10" fill="#c4c4c8"/>
<rect x="330.90" y="167.48" width="153.70" height="10.10" fill="none" stroke="#6e6e6e" stroke-width="0.8"/>
<text x="487.50" y="174.83" font-size="8.0" fill="#303030" text-anchor="start" textLength="18.60" lengthAdjust="spacingAndGlyphs" stroke="#303030" stroke-width="0.18">ICOS</text>
<rect x="326.20" y="180.30" width="2.70" height="9.60" fill="#f7941d"/>
<rect x="330.90" y="179.50" width="153.70" height="10.10" fill="#ffffff"/>
<rect x="331.00" y="179.50" width="3.50" height="10.10" fill="#c4c4c8"/>
<rect x="338.30" y="179.50" width="6.90" height="10.10" fill="#c4c4c8"/>
<rect x="347.80" y="179.50" width="2.50" height="10.10" fill="#cc1f37"/>
<rect x="362.20" y="179.50" width="2.30" height="10.10" fill="#cc1f37"/>
<rect x="381.50" y="179.50" width="1.90" height="10.10" fill="#cc1f37"/>
<rect x="386.50" y="179.50" width="2.00" height="10.10" fill="#cc1f37"/>
<rect x="410.50" y="179.50" width="2.00" height="10.10" fill="#cc1f37"/>
<rect x="418.50" y="179.50" width="1.00" height="10.10" fill="#c4c4c8"/>
<rect x="420.00" y="179.50" width="2.50" height="10.10" fill="#cc1f37"/>
<rect x="427.00" y="179.50" width="2.50" height="10.10" fill="#cc1f37"/>
<rect x="434.00" y="179.50" width="2.50" height="10.10" fill="#cc1f37"/>
<rect x="439.00" y="179.50" width="2.00" height="10.10" fill="#c4c4c8"/>
<rect x="465.50" y="179.50" width="2.00" height="10.10" fill="#cc1f37"/>
<rect x="470.00" y="179.50" width="4.00" height="10.10" fill="#cc1f37"/>
<rect x="481.00" y="179.50" width="2.00" height="10.10" fill="#c4c4c8"/>
<rect x="330.90" y="179.50" width="153.70" height="10.10" fill="none" stroke="#6e6e6e" stroke-width="0.8"/>
<text x="487.50" y="186.85" font-size="8.0" fill="#303030" text-anchor="start" textLength="20.10" lengthAdjust="spacingAndGlyphs" stroke="#303030" stroke-width="0.18">CD56</text>
<rect x="327.00" y="192.32" width="1.90" height="9.60" fill="#f7941d"/>
<rect x="330.90" y="191.52" width="153.70" height="10.10" fill="#ffffff"/>
<rect x="331.00" y="191.52" width="5.50" height="10.10" fill="#c4c4c8"/>
<rect x="338.50" y="191.52" width="4.50" height="10.10" fill="#c4c4c8"/>
<rect x="343.20" y="191.52" width="2.00" height="10.10" fill="#cc1f37"/>
<rect x="352.50" y="191.52" width="2.00" height="10.10" fill="#cc1f37"/>
<rect x="364.80" y="191.52" width="2.00" height="10.10" fill="#c4c4c8"/>
<rect x="380.00" y="191.52" width="1.50" height="10.10" fill="#c4c4c8"/>
<rect x="415.00" y="191.52" width="5.00" height="10.10" fill="#cc1f37"/>
<rect x="437.00" y="191.52" width="1.50" height="10.10" fill="#cc1f37"/>
<rect x="438.50" y="191.52" width="2.50" height="10.10" fill="#c4c4c8"/>
<rect x="448.00" y="191.52" width="2.50" height="10.10" fill="#cc1f37"/>
<rect x="481.00" y="191.52" width="2.00" height="10.10" fill="#c4c4c8"/>
<rect x="330.90" y="191.52" width="153.70" height="10.10" fill="none" stroke="#6e6e6e" stroke-width="0.8"/>
<text x="487.50" y="198.87" font-size="8.0" fill="#303030" text-anchor="start" textLength="26.10" lengthAdjust="spacingAndGlyphs" stroke="#303030" stroke-width="0.18">HLADR</text>
<rect x="328.00" y="204.34" width="0.90" height="9.60" fill="#fbc98a"/>
<rect x="330.90" y="203.54" width="153.70" height="10.10" fill="#ffffff"/>
<rect x="331.00" y="203.54" width="8.00" height="10.10" fill="#cc1f37"/>
<rect x="341.50" y="203.54" width="1.50" height="10.10" fill="#c4c4c8"/>
<rect x="347.50" y="203.54" width="9.00" height="10.10" fill="#cc1f37"/>
<rect x="359.50" y="203.54" width="2.00" height="10.10" fill="#cc1f37"/>
<rect x="364.80" y="203.54" width="20.70" height="10.10" fill="#cc1f37"/>
<rect x="388.90" y="203.54" width="16.50" height="10.10" fill="#cc1f37"/>
<rect x="405.40" y="203.54" width="7.60" height="10.10" fill="#cc1f37"/>
<rect x="415.00" y="203.54" width="1.50" height="10.10" fill="#cc1f37"/>
<rect x="420.00" y="203.54" width="18.50" height="10.10" fill="#cc1f37"/>
<rect x="442.00" y="203.54" width="9.00" height="10.10" fill="#cc1f37"/>
<rect x="456.00" y="203.54" width="4.50" height="10.10" fill="#cc1f37"/>
<rect x="463.00" y="203.54" width="12.00" height="10.10" fill="#cc1f37"/>
<rect x="477.50" y="203.54" width="1.00" height="10.10" fill="#cc1f37"/>
<rect x="482.00" y="203.54" width="2.60" height="10.10" fill="#cc1f37"/>
<rect x="330.90" y="203.54" width="153.70" height="10.10" fill="none" stroke="#6e6e6e" stroke-width="0.8"/>
<text x="487.50" y="210.89" font-size="8.0" fill="#303030" text-anchor="start" textLength="18.30" lengthAdjust="spacingAndGlyphs" stroke="#303030" stroke-width="0.18">TIM3</text>
<line x1="405.30" y1="59.30" x2="405.30" y2="213.64" stroke="#333" stroke-width="0.8"/>
<line x1="315.10" y1="60.10" x2="315.10" y2="219.40" stroke="#cf4262" stroke-width="1.3" stroke-dasharray="3.2 2.1" stroke-dashoffset="1.4"/>
<path d="M307.2,222.2 V219.4 H328.9 V222.2 M318.1,219.4 V222.2" fill="none" stroke="#555" stroke-width="0.9"/>
<text x="307.80" y="231.40" font-size="7.5" fill="#303030" text-anchor="middle" stroke="#303030" stroke-width="0.18">2</text>
<text x="318.20" y="231.40" font-size="7.5" fill="#303030" text-anchor="middle" stroke="#303030" stroke-width="0.18">1</text>
<text x="328.60" y="231.40" font-size="7.5" fill="#303030" text-anchor="middle" stroke="#303030" stroke-width="0.18">0</text>
<text x="332.00" y="224.90" font-size="7.6" fill="#303030" text-anchor="start" textLength="31.30" lengthAdjust="spacingAndGlyphs" stroke="#303030" stroke-width="0.18">−log10 p</text>
<text x="5.90" y="258.00" font-size="10.5" fill="#111" text-anchor="start" font-weight="bold">C</text>
<defs><clipPath id="cp00"><rect x="6.00" y="266.00" width="68.60" height="50.40"/></clipPath><clipPath id="cp01"><rect x="76.70" y="266.00" width="68.10" height="50.40"/></clipPath><clipPath id="cp02"><rect x="147.10" y="266.00" width="68.60" height="50.40"/></clipPath><clipPath id="cp03"><rect x="217.80" y="266.00" width="68.10" height="50.40"/></clipPath><clipPath id="cp04"><rect x="288.20" y="266.00" width="69.20" height="50.40"/></clipPath><clipPath id="cp10"><rect x="6.00" y="350.00" width="68.60" height="51.00"/></clipPath><clipPath id="cp11"><rect x="76.70" y="350.00" width="68.10" height="51.00"/></clipPath><clipPath id="cp12"><rect x="147.10" y="350.00" width="68.60" height="51.00"/></clipPath><clipPath id="cp13"><rect x="217.80" y="350.00" width="68.10" height="51.00"/></clipPath><clipPath id="cp14"><rect x="288.20" y="350.00" width="69.20" height="51.00"/></clipPath><filter id="bl" x="-20%" y="-20%" width="140%" height="140%"><feGaussianBlur stdDeviation="0.5"/></filter></defs>
<g clip-path="url(#cp00)">
<rect x="6.00" y="266.00" width="68.60" height="50.40" fill="#ede9e3"/>
<g filter="url(#f00)"><rect x="-2.0" y="258.0" width="19.4" height="18.1" fill-opacity="0.43"/><rect x="17.4" y="258.0" width="11.4" height="18.1" fill-opacity="0.48"/><rect x="28.9" y="258.0" width="11.4" height="18.1" fill-opacity="0.66"/><rect x="40.3" y="258.0" width="11.4" height="18.1" fill-opacity="0.78"/><rect x="51.7" y="258.0" width="11.4" height="18.1" fill-opacity="0.74"/><rect x="63.2" y="258.0" width="19.4" height="18.1" fill-opacity="0.56"/><rect x="-2.0" y="276.1" width="19.4" height="10.1" fill-opacity="0.38"/><rect x="17.4" y="276.1" width="11.4" height="10.1" fill-opacity="0.43"/><rect x="28.9" y="276.1" width="11.4" height="10.1" fill-opacity="0.62"/><rect x="40.3" y="276.1" width="11.4" height="10.1" fill-opacity="0.69"/><rect x="51.7" y="276.1" width="11.4" height="10.1" fill-opacity="0.57"/><rect x="63.2" y="276.1" width="19.4" height="10.1" fill-opacity="0.48"/><rect x="-2.0" y="286.2" width="19.4" height="10.1" fill-opacity="0.32"/><rect x="17.4" y="286.2" width="11.4" height="10.1" fill-opacity="0.35"/><rect x="28.9" y="286.2" width="11.4" height="10.1" fill-opacity="0.46"/><rect x="40.3" y="286.2" width="11.4" height="10.1" fill-opacity="0.48"/><rect x="51.7" y="286.2" width="11.4" height="10.1" fill-opacity="0.43"/><rect x="63.2" y="286.2" width="19.4" height="10.1" fill-opacity="0.41"/><rect x="-2.0" y="296.2" width="19.4" height="10.1" fill-opacity="0.43"/><rect x="17.4" y="296.2" width="11.4" height="10.1" fill-opacity="0.38"/><rect x="28.9" y="296.2" width="11.4" height="10.1" fill-opacity="0.38"/><rect x="40.3" y="296.2" width="11.4" height="10.1" fill-opacity="0.40"/><rect x="51.7" y="296.2" width="11.4" height="10.1" fill-opacity="0.43"/><rect x="63.2" y="296.2" width="19.4" height="10.1" fill-opacity="0.40"/><rect x="-2.0" y="306.3" width="19.4" height="18.1" fill-opacity="0.40"/><rect x="17.4" y="306.3" width="11.4" height="18.1" fill-opacity="0.36"/><rect x="28.9" y="306.3" width="11.4" height="18.1" fill-opacity="0.38"/><rect x="40.3" y="306.3" width="11.4" height="18.1" fill-opacity="0.36"/><rect x="51.7" y="306.3" width="11.4" height="18.1" fill-opacity="0.43"/><rect x="63.2" y="306.3" width="19.4" height="18.1" fill-opacity="0.38"/></g>
<path d="M5.0 281.1 C11.5 281.6 18.3 284.6 24.5 289.7 C26.6 292.2 23.1 293.2 19.7 292.2 C14.2 290.7 10.1 289.2 5.0 288.7Z" fill="#e2ecf0" filter="url(#bl)"/>
</g>
<text x="10.50" y="311.80" font-size="8.2" fill="#262626" text-anchor="start" textLength="16.20" lengthAdjust="spacingAndGlyphs" stroke="#262626" stroke-width="0.18">High</text>
<rect x="55.40" y="313.45" width="17.40" height="1.75" fill="#111"/>
<g clip-path="url(#cp01)">
<rect x="76.70" y="266.00" width="68.10" height="50.40" fill="#85a7d3"/>
<rect x="76.7" y="266.0" width="68.1" height="50.4" filter="url(#m01)"/>
<g filter="url(#f01)"></g>
<g filter="url(#bl)"><ellipse cx="90.0" cy="272.7" rx="1.5" ry="1.2" transform="rotate(117 90.0 272.7)" fill="#ad6c3c"/><ellipse cx="94.0" cy="275.2" rx="1.0" ry="0.6" transform="rotate(28 94.0 275.2)" fill="#a46434"/><ellipse cx="91.5" cy="272.0" rx="1.3" ry="1.0" transform="rotate(2 91.5 272.0)" fill="#b87848"/><ellipse cx="91.1" cy="271.6" rx="1.7" ry="0.9" transform="rotate(137 91.1 271.6)" fill="#ad6c3c"/><ellipse cx="101.3" cy="276.8" rx="0.9" ry="1.3" transform="rotate(1 101.3 276.8)" fill="#b87848"/><ellipse cx="103.7" cy="275.1" rx="1.0" ry="0.8" transform="rotate(36 103.7 275.1)" fill="#b87848"/><ellipse cx="113.8" cy="273.2" rx="1.8" ry="1.2" transform="rotate(54 113.8 273.2)" fill="#a46434"/><ellipse cx="110.2" cy="274.7" rx="1.1" ry="0.8" transform="rotate(147 110.2 274.7)" fill="#ad6c3c"/><ellipse cx="117.4" cy="280.1" rx="1.1" ry="1.2" transform="rotate(87 117.4 280.1)" fill="#a46434"/><ellipse cx="114.1" cy="281.0" rx="1.0" ry="0.8" transform="rotate(169 114.1 281.0)" fill="#a46434"/><ellipse cx="118.5" cy="278.2" rx="1.6" ry="0.9" transform="rotate(104 118.5 278.2)" fill="#ad6c3c"/><ellipse cx="115.9" cy="282.4" rx="1.4" ry="1.3" transform="rotate(21 115.9 282.4)" fill="#b87848"/><ellipse cx="124.7" cy="275.2" rx="1.3" ry="1.1" transform="rotate(19 124.7 275.2)" fill="#a46434"/><ellipse cx="128.2" cy="273.3" rx="1.7" ry="0.7" transform="rotate(61 128.2 273.3)" fill="#a46434"/><ellipse cx="128.6" cy="275.1" rx="1.7" ry="1.0" transform="rotate(56 128.6 275.1)" fill="#a46434"/><ellipse cx="132.4" cy="269.5" rx="0.9" ry="1.1" transform="rotate(179 132.4 269.5)" fill="#b87848"/><ellipse cx="136.1" cy="269.5" rx="1.4" ry="1.2" transform="rotate(6 136.1 269.5)" fill="#a46434"/><ellipse cx="136.8" cy="271.8" rx="1.2" ry="0.6" transform="rotate(165 136.8 271.8)" fill="#ad6c3c"/><ellipse cx="136.9" cy="281.9" rx="1.8" ry="1.0" transform="rotate(24 136.9 281.9)" fill="#be8050"/><ellipse cx="135.3" cy="283.2" rx="0.9" ry="1.2" transform="rotate(53 135.3 283.2)" fill="#be8050"/><ellipse cx="140.9" cy="284.4" rx="1.0" ry="1.0" transform="rotate(173 140.9 284.4)" fill="#a46434"/><ellipse cx="83.3" cy="291.0" rx="1.7" ry="0.7" transform="rotate(148 83.3 291.0)" fill="#b87848"/><ellipse cx="85.7" cy="291.2" rx="1.1" ry="0.7" transform="rotate(49 85.7 291.2)" fill="#a46434"/><ellipse cx="81.9" cy="293.0" rx="1.2" ry="1.0" transform="rotate(6 81.9 293.0)" fill="#a46434"/><ellipse cx="97.5" cy="289.7" rx="1.6" ry="0.8" transform="rotate(177 97.5 289.7)" fill="#a46434"/><ellipse cx="100.2" cy="287.7" rx="1.0" ry="1.2" transform="rotate(85 100.2 287.7)" fill="#a46434"/><ellipse cx="95.9" cy="287.3" rx="1.1" ry="1.0" transform="rotate(121 95.9 287.3)" fill="#a46434"/><ellipse cx="105.8" cy="292.8" rx="1.7" ry="0.9" transform="rotate(166 105.8 292.8)" fill="#b87848"/><ellipse cx="109.9" cy="294.9" rx="1.8" ry="1.3" transform="rotate(93 109.9 294.9)" fill="#b87848"/><ellipse cx="105.3" cy="292.9" rx="1.7" ry="0.8" transform="rotate(14 105.3 292.9)" fill="#be8050"/><ellipse cx="119.7" cy="293.8" rx="1.3" ry="1.3" transform="rotate(54 119.7 293.8)" fill="#a46434"/><ellipse cx="120.4" cy="288.3" rx="1.0" ry="0.9" transform="rotate(117 120.4 288.3)" fill="#b87848"/><ellipse cx="129.0" cy="295.0" rx="1.8" ry="1.3" transform="rotate(30 129.0 295.0)" fill="#b87848"/><ellipse cx="128.5" cy="296.6" rx="1.3" ry="1.0" transform="rotate(75 128.5 296.6)" fill="#a46434"/><ellipse cx="130.4" cy="294.4" rx="1.4" ry="0.8" transform="rotate(163 130.4 294.4)" fill="#ad6c3c"/><ellipse cx="130.2" cy="296.5" rx="1.7" ry="1.2" transform="rotate(124 130.2 296.5)" fill="#a46434"/><ellipse cx="90.7" cy="302.6" rx="1.1" ry="1.0" transform="rotate(171 90.7 302.6)" fill="#a46434"/><ellipse cx="93.4" cy="305.7" rx="1.2" ry="1.2" transform="rotate(116 93.4 305.7)" fill="#a46434"/><ellipse cx="100.1" cy="305.9" rx="1.4" ry="1.3" transform="rotate(174 100.1 305.9)" fill="#ad6c3c"/><ellipse cx="101.6" cy="307.7" rx="0.8" ry="0.7" transform="rotate(102 101.6 307.7)" fill="#b87848"/><ellipse cx="101.4" cy="307.6" rx="1.4" ry="0.9" transform="rotate(176 101.4 307.6)" fill="#be8050"/><ellipse cx="114.0" cy="307.6" rx="1.2" ry="1.2" transform="rotate(29 114.0 307.6)" fill="#a46434"/><ellipse cx="115.8" cy="305.1" rx="1.1" ry="0.6" transform="rotate(170 115.8 305.1)" fill="#a46434"/><ellipse cx="114.1" cy="305.0" rx="1.3" ry="0.7" transform="rotate(112 114.1 305.0)" fill="#be8050"/><ellipse cx="123.0" cy="304.0" rx="1.6" ry="0.6" transform="rotate(96 123.0 304.0)" fill="#a46434"/><ellipse cx="122.6" cy="302.1" rx="0.8" ry="0.9" transform="rotate(152 122.6 302.1)" fill="#a46434"/><ellipse cx="137.9" cy="306.8" rx="1.3" ry="1.2" transform="rotate(159 137.9 306.8)" fill="#ad6c3c"/><ellipse cx="134.7" cy="301.5" rx="1.1" ry="1.1" transform="rotate(110 134.7 301.5)" fill="#ad6c3c"/><ellipse cx="137.7" cy="303.0" rx="1.5" ry="1.0" transform="rotate(7 137.7 303.0)" fill="#a46434"/><ellipse cx="79.8" cy="278.6" rx="1.7" ry="1.0" transform="rotate(3 79.8 278.6)" fill="#be8050"/><ellipse cx="80.8" cy="277.2" rx="1.8" ry="1.1" transform="rotate(155 80.8 277.2)" fill="#be8050"/><ellipse cx="79.9" cy="277.2" rx="1.5" ry="1.2" transform="rotate(84 79.9 277.2)" fill="#ad6c3c"/><ellipse cx="78.8" cy="273.1" rx="1.6" ry="1.0" transform="rotate(117 78.8 273.1)" fill="#be8050"/><ellipse cx="118.5" cy="312.2" rx="1.3" ry="0.9" transform="rotate(60 118.5 312.2)" fill="#b87848"/><ellipse cx="120.5" cy="312.6" rx="0.8" ry="1.1" transform="rotate(48 120.5 312.6)" fill="#ad6c3c"/><ellipse cx="123.0" cy="313.4" rx="0.8" ry="1.1" transform="rotate(176 123.0 313.4)" fill="#be8050"/><ellipse cx="95.7" cy="311.6" rx="0.9" ry="1.0" transform="rotate(148 95.7 311.6)" fill="#ad6c3c"/><ellipse cx="97.2" cy="311.7" rx="1.1" ry="1.2" transform="rotate(27 97.2 311.7)" fill="#b87848"/><ellipse cx="95.2" cy="311.8" rx="1.4" ry="0.6" transform="rotate(19 95.2 311.8)" fill="#be8050"/><ellipse cx="97.4" cy="312.5" rx="1.4" ry="0.7" transform="rotate(72 97.4 312.5)" fill="#b87848"/><ellipse cx="140.9" cy="310.2" rx="1.4" ry="0.9" transform="rotate(169 140.9 310.2)" fill="#a46434"/><ellipse cx="144.2" cy="309.2" rx="1.1" ry="1.0" transform="rotate(122 144.2 309.2)" fill="#a46434"/><ellipse cx="111.1" cy="282.0" rx="0.9" ry="0.8" transform="rotate(150 111.1 282.0)" fill="#a46434"/><ellipse cx="110.9" cy="281.4" rx="1.0" ry="0.9" transform="rotate(133 110.9 281.4)" fill="#b87848"/><ellipse cx="108.2" cy="280.7" rx="1.1" ry="1.0" transform="rotate(6 108.2 280.7)" fill="#ad6c3c"/><ellipse cx="110.8" cy="283.4" rx="1.2" ry="0.9" transform="rotate(173 110.8 283.4)" fill="#ad6c3c"/></g>
</g>
<text x="81.20" y="311.80" font-size="8.2" fill="#262626" text-anchor="start" textLength="16.20" lengthAdjust="spacingAndGlyphs" stroke="#262626" stroke-width="0.18">High</text>
<rect x="125.60" y="313.45" width="17.40" height="1.75" fill="#111"/>
<g clip-path="url(#cp02)">
<rect x="147.10" y="266.00" width="68.60" height="50.40" fill="#dfe1e8"/>
<path d="M147.1 266.0 H167.7 C157.4 271.0 150.5 281.1 147.1 291.2 Z" fill="#f5f5f7"/>
<g filter="url(#f02)"><rect x="174.5" y="258.0" width="6.9" height="18.1" fill-opacity="0.23"/><rect x="181.4" y="258.0" width="6.9" height="18.1" fill-opacity="0.62"/><rect x="188.3" y="258.0" width="6.9" height="18.1" fill-opacity="0.63"/><rect x="195.1" y="258.0" width="6.9" height="18.1" fill-opacity="0.62"/><rect x="202.0" y="258.0" width="6.9" height="18.1" fill-opacity="0.41"/><rect x="208.8" y="258.0" width="14.9" height="18.1" fill-opacity="0.14"/><rect x="174.5" y="276.1" width="6.9" height="10.1" fill-opacity="0.41"/><rect x="181.4" y="276.1" width="6.9" height="10.1" fill-opacity="0.63"/><rect x="188.3" y="276.1" width="6.9" height="10.1" fill-opacity="0.64"/><rect x="195.1" y="276.1" width="6.9" height="10.1" fill-opacity="0.63"/><rect x="202.0" y="276.1" width="6.9" height="10.1" fill-opacity="0.52"/><rect x="208.8" y="276.1" width="14.9" height="10.1" fill-opacity="0.23"/><rect x="167.7" y="286.2" width="6.9" height="10.1" fill-opacity="0.15"/><rect x="174.5" y="286.2" width="6.9" height="10.1" fill-opacity="0.57"/><rect x="181.4" y="286.2" width="6.9" height="10.1" fill-opacity="0.64"/><rect x="188.3" y="286.2" width="6.9" height="10.1" fill-opacity="0.64"/><rect x="195.1" y="286.2" width="6.9" height="10.1" fill-opacity="0.63"/><rect x="202.0" y="286.2" width="6.9" height="10.1" fill-opacity="0.57"/><rect x="208.8" y="286.2" width="14.9" height="10.1" fill-opacity="0.34"/><rect x="167.7" y="296.2" width="6.9" height="10.1" fill-opacity="0.36"/><rect x="174.5" y="296.2" width="6.9" height="10.1" fill-opacity="0.62"/><rect x="181.4" y="296.2" width="6.9" height="10.1" fill-opacity="0.64"/><rect x="188.3" y="296.2" width="6.9" height="10.1" fill-opacity="0.64"/><rect x="195.1" y="296.2" width="6.9" height="10.1" fill-opacity="0.63"/><rect x="202.0" y="296.2" width="6.9" height="10.1" fill-opacity="0.62"/><rect x="208.8" y="296.2" width="14.9" height="10.1" fill-opacity="0.45"/><rect x="167.7" y="306.3" width="6.9" height="18.1" fill-opacity="0.46"/><rect x="174.5" y="306.3" width="6.9" height="18.1" fill-opacity="0.63"/><rect x="181.4" y="306.3" width="6.9" height="18.1" fill-opacity="0.64"/><rect x="188.3" y="306.3" width="6.9" height="18.1" fill-opacity="0.64"/><rect x="195.1" y="306.3" width="6.9" height="18.1" fill-opacity="0.63"/><rect x="202.0" y="306.3" width="6.9" height="18.1" fill-opacity="0.62"/><rect x="208.8" y="306.3" width="14.9" height="18.1" fill-opacity="0.52"/></g>
</g>
<text x="151.60" y="311.80" font-size="8.2" fill="#262626" text-anchor="start" textLength="16.20" lengthAdjust="spacingAndGlyphs" stroke="#262626" stroke-width="0.18">High</text>
<rect x="196.50" y="313.45" width="17.40" height="1.75" fill="#111"/>
<g clip-path="url(#cp03)">
<rect x="217.80" y="266.00" width="68.10" height="50.40" fill="#dadde5"/>
<g filter="url(#f03)"><rect x="209.8" y="258.0" width="19.3" height="18.1" fill-opacity="0.26"/><rect x="229.2" y="258.0" width="11.3" height="18.1" fill-opacity="0.23"/><rect x="240.5" y="258.0" width="11.3" height="18.1" fill-opacity="0.32"/><rect x="251.8" y="258.0" width="11.3" height="18.1" fill-opacity="0.43"/><rect x="263.2" y="258.0" width="11.3" height="18.1" fill-opacity="0.46"/><rect x="274.5" y="258.0" width="19.4" height="18.1" fill-opacity="0.42"/><rect x="209.8" y="276.1" width="19.3" height="10.1" fill-opacity="0.20"/><rect x="229.2" y="276.1" width="11.3" height="10.1" fill-opacity="0.18"/><rect x="240.5" y="276.1" width="11.3" height="10.1" fill-opacity="0.30"/><rect x="251.8" y="276.1" width="11.3" height="10.1" fill-opacity="0.40"/><rect x="263.2" y="276.1" width="11.3" height="10.1" fill-opacity="0.43"/><rect x="274.5" y="276.1" width="19.4" height="10.1" fill-opacity="0.40"/><rect x="209.8" y="286.2" width="19.3" height="10.1" fill-opacity="0.26"/><rect x="229.2" y="286.2" width="11.3" height="10.1" fill-opacity="0.26"/><rect x="240.5" y="286.2" width="11.3" height="10.1" fill-opacity="0.29"/><rect x="251.8" y="286.2" width="11.3" height="10.1" fill-opacity="0.34"/><rect x="263.2" y="286.2" width="11.3" height="10.1" fill-opacity="0.36"/><rect x="274.5" y="286.2" width="19.4" height="10.1" fill-opacity="0.35"/><rect x="209.8" y="296.2" width="19.3" height="10.1" fill-opacity="0.28"/><rect x="229.2" y="296.2" width="11.3" height="10.1" fill-opacity="0.28"/><rect x="240.5" y="296.2" width="11.3" height="10.1" fill-opacity="0.29"/><rect x="251.8" y="296.2" width="11.3" height="10.1" fill-opacity="0.32"/><rect x="263.2" y="296.2" width="11.3" height="10.1" fill-opacity="0.34"/><rect x="274.5" y="296.2" width="19.4" height="10.1" fill-opacity="0.34"/><rect x="209.8" y="306.3" width="19.3" height="18.1" fill-opacity="0.28"/><rect x="229.2" y="306.3" width="11.3" height="18.1" fill-opacity="0.28"/><rect x="240.5" y="306.3" width="11.3" height="18.1" fill-opacity="0.29"/><rect x="251.8" y="306.3" width="11.3" height="18.1" fill-opacity="0.30"/><rect x="263.2" y="306.3" width="11.3" height="18.1" fill-opacity="0.32"/><rect x="274.5" y="306.3" width="19.4" height="18.1" fill-opacity="0.32"/></g>
</g>
<text x="222.30" y="311.80" font-size="8.2" fill="#262626" text-anchor="start" textLength="16.20" lengthAdjust="spacingAndGlyphs" stroke="#262626" stroke-width="0.18">High</text>
<rect x="266.70" y="313.45" width="17.40" height="1.75" fill="#111"/>
<g clip-path="url(#cp04)">
<rect x="288.20" y="266.00" width="69.20" height="50.40" fill="#ece6df"/>
<g filter="url(#f04)"><rect x="280.2" y="258.0" width="19.5" height="18.1" fill-opacity="0.43"/><rect x="299.7" y="258.0" width="11.5" height="18.1" fill-opacity="0.46"/><rect x="311.3" y="258.0" width="11.5" height="18.1" fill-opacity="0.46"/><rect x="322.8" y="258.0" width="11.5" height="18.1" fill-opacity="0.46"/><rect x="334.3" y="258.0" width="11.5" height="18.1" fill-opacity="0.51"/><rect x="345.9" y="258.0" width="19.5" height="18.1" fill-opacity="0.51"/><rect x="280.2" y="276.1" width="19.5" height="10.1" fill-opacity="0.38"/><rect x="299.7" y="276.1" width="11.5" height="10.1" fill-opacity="0.41"/><rect x="311.3" y="276.1" width="11.5" height="10.1" fill-opacity="0.46"/><rect x="322.8" y="276.1" width="11.5" height="10.1" fill-opacity="0.56"/><rect x="334.3" y="276.1" width="11.5" height="10.1" fill-opacity="0.54"/><rect x="345.9" y="276.1" width="19.5" height="10.1" fill-opacity="0.48"/><rect x="280.2" y="286.2" width="19.5" height="10.1" fill-opacity="0.38"/><rect x="299.7" y="286.2" width="11.5" height="10.1" fill-opacity="0.38"/><rect x="311.3" y="286.2" width="11.5" height="10.1" fill-opacity="0.51"/><rect x="322.8" y="286.2" width="11.5" height="10.1" fill-opacity="0.63"/><rect x="334.3" y="286.2" width="11.5" height="10.1" fill-opacity="0.56"/><rect x="345.9" y="286.2" width="19.5" height="10.1" fill-opacity="0.46"/><rect x="280.2" y="296.2" width="19.5" height="10.1" fill-opacity="0.38"/><rect x="299.7" y="296.2" width="11.5" height="10.1" fill-opacity="0.38"/><rect x="311.3" y="296.2" width="11.5" height="10.1" fill-opacity="0.46"/><rect x="322.8" y="296.2" width="11.5" height="10.1" fill-opacity="0.54"/><rect x="334.3" y="296.2" width="11.5" height="10.1" fill-opacity="0.51"/><rect x="345.9" y="296.2" width="19.5" height="10.1" fill-opacity="0.43"/><rect x="280.2" y="306.3" width="19.5" height="18.1" fill-opacity="0.38"/><rect x="299.7" y="306.3" width="11.5" height="18.1" fill-opacity="0.35"/><rect x="311.3" y="306.3" width="11.5" height="18.1" fill-opacity="0.41"/><rect x="322.8" y="306.3" width="11.5" height="18.1" fill-opacity="0.46"/><rect x="334.3" y="306.3" width="11.5" height="18.1" fill-opacity="0.46"/><rect x="345.9" y="306.3" width="19.5" height="18.1" fill-opacity="0.43"/></g>
</g>
<text x="292.70" y="311.80" font-size="8.2" fill="#262626" text-anchor="start" textLength="16.20" lengthAdjust="spacingAndGlyphs" stroke="#262626" stroke-width="0.18">High</text>
<rect x="338.20" y="313.45" width="17.40" height="1.75" fill="#111"/>
<g clip-path="url(#cp10)">
<rect x="6.00" y="350.00" width="68.60" height="51.00" fill="#cad2de"/>
<rect x="6.0" y="350.0" width="68.6" height="51.0" filter="url(#m10)"/>
<g filter="url(#f10)"><rect x="-2.0" y="342.0" width="16.6" height="16.5" fill-opacity="0.14"/><rect x="14.6" y="342.0" width="8.6" height="16.5" fill-opacity="0.11"/><rect x="23.1" y="342.0" width="8.6" height="16.5" fill-opacity="0.06"/><rect x="31.7" y="342.0" width="8.6" height="16.5" fill-opacity="0.06"/><rect x="40.3" y="342.0" width="8.6" height="16.5" fill-opacity="0.08"/><rect x="48.9" y="342.0" width="8.6" height="16.5" fill-opacity="0.11"/><rect x="57.4" y="342.0" width="8.6" height="16.5" fill-opacity="0.14"/><rect x="66.0" y="342.0" width="16.6" height="16.5" fill-opacity="0.18"/><rect x="-2.0" y="358.5" width="16.6" height="8.5" fill-opacity="0.23"/><rect x="14.6" y="358.5" width="8.6" height="8.5" fill-opacity="0.18"/><rect x="23.1" y="358.5" width="8.6" height="8.5" fill-opacity="0.08"/><rect x="31.7" y="358.5" width="8.6" height="8.5" fill-opacity="0.06"/><rect x="40.3" y="358.5" width="8.6" height="8.5" fill-opacity="0.14"/><rect x="48.9" y="358.5" width="8.6" height="8.5" fill-opacity="0.26"/><rect x="57.4" y="358.5" width="8.6" height="8.5" fill-opacity="0.15"/><rect x="66.0" y="358.5" width="16.6" height="8.5" fill-opacity="0.26"/><rect x="-2.0" y="367.0" width="16.6" height="8.5" fill-opacity="0.30"/><rect x="14.6" y="367.0" width="8.6" height="8.5" fill-opacity="0.23"/><rect x="23.1" y="367.0" width="8.6" height="8.5" fill-opacity="0.08"/><rect x="31.7" y="367.0" width="8.6" height="8.5" fill-opacity="0.06"/><rect x="40.3" y="367.0" width="8.6" height="8.5" fill-opacity="0.18"/><rect x="48.9" y="367.0" width="8.6" height="8.5" fill-opacity="0.32"/><rect x="57.4" y="367.0" width="8.6" height="8.5" fill-opacity="0.18"/><rect x="66.0" y="367.0" width="16.6" height="8.5" fill-opacity="0.30"/><rect x="-2.0" y="375.5" width="16.6" height="8.5" fill-opacity="0.32"/><rect x="14.6" y="375.5" width="8.6" height="8.5" fill-opacity="0.20"/><rect x="23.1" y="375.5" width="8.6" height="8.5" fill-opacity="0.08"/><rect x="31.7" y="375.5" width="8.6" height="8.5" fill-opacity="0.08"/><rect x="40.3" y="375.5" width="8.6" height="8.5" fill-opacity="0.15"/><rect x="48.9" y="375.5" width="8.6" height="8.5" fill-opacity="0.29"/><rect x="57.4" y="375.5" width="8.6" height="8.5" fill-opacity="0.15"/><rect x="66.0" y="375.5" width="16.6" height="8.5" fill-opacity="0.29"/><rect x="-2.0" y="384.0" width="16.6" height="8.5" fill-opacity="0.26"/><rect x="14.6" y="384.0" width="8.6" height="8.5" fill-opacity="0.15"/><rect x="23.1" y="384.0" width="8.6" height="8.5" fill-opacity="0.06"/><rect x="31.7" y="384.0" width="8.6" height="8.5" fill-opacity="0.08"/><rect x="40.3" y="384.0" width="8.6" height="8.5" fill-opacity="0.11"/><rect x="48.9" y="384.0" width="8.6" height="8.5" fill-opacity="0.18"/><rect x="57.4" y="384.0" width="8.6" height="8.5" fill-opacity="0.14"/><rect x="66.0" y="384.0" width="16.6" height="8.5" fill-opacity="0.20"/><rect x="-2.0" y="392.5" width="16.6" height="16.5" fill-opacity="0.18"/><rect x="14.6" y="392.5" width="8.6" height="16.5" fill-opacity="0.11"/><rect x="23.1" y="392.5" width="8.6" height="16.5" fill-opacity="0.06"/><rect x="31.7" y="392.5" width="8.6" height="16.5" fill-opacity="0.06"/><rect x="40.3" y="392.5" width="8.6" height="16.5" fill-opacity="0.08"/><rect x="48.9" y="392.5" width="8.6" height="16.5" fill-opacity="0.11"/><rect x="57.4" y="392.5" width="8.6" height="16.5" fill-opacity="0.11"/><rect x="66.0" y="392.5" width="16.6" height="16.5" fill-opacity="0.15"/></g>
</g>
<text x="10.50" y="397.80" font-size="8.2" fill="#262626" text-anchor="start" textLength="14.30" lengthAdjust="spacingAndGlyphs" stroke="#262626" stroke-width="0.18">Low</text>
<rect x="55.40" y="398.05" width="17.40" height="1.75" fill="#111"/>
<g clip-path="url(#cp11)">
<rect x="76.70" y="350.00" width="68.10" height="51.00" fill="#9bbae0"/>
<rect x="76.7" y="350.0" width="68.1" height="51.0" filter="url(#m11)"/>
<g filter="url(#f11)"><rect x="68.7" y="342.0" width="19.4" height="20.8" fill-opacity="0.15"/><rect x="88.1" y="342.0" width="11.3" height="20.8" fill-opacity="0.23"/><rect x="99.4" y="342.0" width="11.3" height="20.8" fill-opacity="0.18"/><rect x="110.8" y="342.0" width="11.4" height="20.8" fill-opacity="0.14"/><rect x="122.1" y="342.0" width="11.4" height="20.8" fill-opacity="0.14"/><rect x="133.5" y="342.0" width="19.3" height="20.8" fill-opacity="0.14"/><rect x="68.7" y="362.8" width="19.4" height="12.8" fill-opacity="0.15"/><rect x="88.1" y="362.8" width="11.3" height="12.8" fill-opacity="0.20"/><rect x="99.4" y="362.8" width="11.3" height="12.8" fill-opacity="0.16"/><rect x="110.8" y="362.8" width="11.4" height="12.8" fill-opacity="0.14"/><rect x="122.1" y="362.8" width="11.4" height="12.8" fill-opacity="0.14"/><rect x="133.5" y="362.8" width="19.3" height="12.8" fill-opacity="0.14"/><rect x="68.7" y="375.5" width="19.4" height="12.8" fill-opacity="0.14"/><rect x="88.1" y="375.5" width="11.3" height="12.8" fill-opacity="0.15"/><rect x="99.4" y="375.5" width="11.3" height="12.8" fill-opacity="0.18"/><rect x="110.8" y="375.5" width="11.4" height="12.8" fill-opacity="0.14"/><rect x="122.1" y="375.5" width="11.4" height="12.8" fill-opacity="0.14"/><rect x="133.5" y="375.5" width="19.3" height="12.8" fill-opacity="0.14"/><rect x="68.7" y="388.2" width="19.4" height="20.8" fill-opacity="0.14"/><rect x="88.1" y="388.2" width="11.3" height="20.8" fill-opacity="0.14"/><rect x="99.4" y="388.2" width="11.3" height="20.8" fill-opacity="0.15"/><rect x="110.8" y="388.2" width="11.4" height="20.8" fill-opacity="0.14"/><rect x="122.1" y="388.2" width="11.4" height="20.8" fill-opacity="0.14"/><rect x="133.5" y="388.2" width="19.3" height="20.8" fill-opacity="0.14"/></g>
</g>
<text x="81.20" y="397.80" font-size="8.2" fill="#262626" text-anchor="start" textLength="14.30" lengthAdjust="spacingAndGlyphs" stroke="#262626" stroke-width="0.18">Low</text>
<rect x="125.60" y="398.05" width="17.40" height="1.75" fill="#111"/>
<g clip-path="url(#cp12)">
<rect x="147.10" y="350.00" width="68.60" height="51.00" fill="#d8dbe4"/>
<rect x="147.1" y="350.0" width="68.6" height="51.0" filter="url(#m12)"/>
<g filter="url(#f12)"><rect x="139.1" y="342.0" width="30.9" height="33.5" fill-opacity="0.03"/><rect x="170.0" y="342.0" width="22.9" height="33.5" fill-opacity="0.03"/><rect x="192.8" y="342.0" width="30.9" height="33.5" fill-opacity="0.03"/><rect x="139.1" y="375.5" width="30.9" height="33.5" fill-opacity="0.03"/><rect x="170.0" y="375.5" width="22.9" height="33.5" fill-opacity="0.03"/><rect x="192.8" y="375.5" width="30.9" height="33.5" fill-opacity="0.03"/></g>
<path d="M147.1 381.6 L167.7 401.0 H147.1 Z" fill="#f4f4f6"/><ellipse cx="188.3" cy="360.2" rx="3.2" ry="1.4" transform="rotate(-25 188.3 360.2)" fill="#a8622a" filter="url(#bl)"/>
</g>
<text x="151.60" y="397.80" font-size="8.2" fill="#262626" text-anchor="start" textLength="14.30" lengthAdjust="spacingAndGlyphs" stroke="#262626" stroke-width="0.18">Low</text>
<rect x="196.50" y="398.05" width="17.40" height="1.75" fill="#111"/>
<g clip-path="url(#cp13)">
<rect x="217.80" y="350.00" width="68.10" height="51.00" fill="#d3d7e1"/>
<rect x="217.8" y="350.0" width="68.1" height="51.0" filter="url(#m13)"/>
<g filter="url(#f13)"><rect x="209.8" y="342.0" width="30.7" height="33.5" fill-opacity="0.03"/><rect x="240.5" y="342.0" width="22.7" height="33.5" fill-opacity="0.03"/><rect x="263.2" y="342.0" width="30.7" height="33.5" fill-opacity="0.03"/><rect x="209.8" y="375.5" width="30.7" height="33.5" fill-opacity="0.03"/><rect x="240.5" y="375.5" width="22.7" height="33.5" fill-opacity="0.03"/><rect x="263.2" y="375.5" width="30.7" height="33.5" fill-opacity="0.03"/></g>
</g>
<text x="222.30" y="397.80" font-size="8.2" fill="#262626" text-anchor="start" textLength="14.30" lengthAdjust="spacingAndGlyphs" stroke="#262626" stroke-width="0.18">Low</text>
<rect x="266.70" y="398.05" width="17.40" height="1.75" fill="#111"/>
<g clip-path="url(#cp14)">
<rect x="288.20" y="350.00" width="69.20" height="51.00" fill="#dcdce3"/>
<g filter="url(#f14)"><rect x="280.2" y="342.0" width="19.5" height="20.8" fill-opacity="0.38"/><rect x="299.7" y="342.0" width="11.5" height="20.8" fill-opacity="0.32"/><rect x="311.3" y="342.0" width="11.5" height="20.8" fill-opacity="0.15"/><rect x="322.8" y="342.0" width="11.5" height="20.8" fill-opacity="0.06"/><rect x="334.3" y="342.0" width="11.5" height="20.8" fill-opacity="0.14"/><rect x="345.9" y="342.0" width="19.5" height="20.8" fill-opacity="0.18"/><rect x="280.2" y="362.8" width="19.5" height="12.8" fill-opacity="0.40"/><rect x="299.7" y="362.8" width="11.5" height="12.8" fill-opacity="0.36"/><rect x="311.3" y="362.8" width="11.5" height="12.8" fill-opacity="0.20"/><rect x="322.8" y="362.8" width="11.5" height="12.8" fill-opacity="0.06"/><rect x="334.3" y="362.8" width="11.5" height="12.8" fill-opacity="0.11"/><rect x="345.9" y="362.8" width="19.5" height="12.8" fill-opacity="0.14"/><rect x="280.2" y="375.5" width="19.5" height="12.8" fill-opacity="0.36"/><rect x="299.7" y="375.5" width="11.5" height="12.8" fill-opacity="0.41"/><rect x="311.3" y="375.5" width="11.5" height="12.8" fill-opacity="0.29"/><rect x="322.8" y="375.5" width="11.5" height="12.8" fill-opacity="0.08"/><rect x="334.3" y="375.5" width="11.5" height="12.8" fill-opacity="0.08"/><rect x="345.9" y="375.5" width="19.5" height="12.8" fill-opacity="0.11"/><rect x="280.2" y="388.2" width="19.5" height="20.8" fill-opacity="0.32"/><rect x="299.7" y="388.2" width="11.5" height="20.8" fill-opacity="0.41"/><rect x="311.3" y="388.2" width="11.5" height="20.8" fill-opacity="0.38"/><rect x="322.8" y="388.2" width="11.5" height="20.8" fill-opacity="0.15"/><rect x="334.3" y="388.2" width="11.5" height="20.8" fill-opacity="0.08"/><rect x="345.9" y="388.2" width="19.5" height="20.8" fill-opacity="0.08"/></g>
</g>
<text x="292.70" y="397.80" font-size="8.2" fill="#262626" text-anchor="start" textLength="14.30" lengthAdjust="spacingAndGlyphs" stroke="#262626" stroke-width="0.18">Low</text>
<rect x="338.20" y="398.05" width="17.40" height="1.75" fill="#111"/>
<defs><filter id="f00" x="6.0" y="266.0" width="68.6" height="50.4" filterUnits="userSpaceOnUse" color-interpolation-filters="sRGB"><feGaussianBlur in="SourceGraphic" stdDeviation="4.0" result="d"/><feTurbulence type="fractalNoise" baseFrequency="0.33" numOctaves="3" seed="3" result="t"/><feColorMatrix in="t" type="matrix" values="0 0 0 0 0 0 0 0 0 0 0 0 0 0 0 1 0 0 0 0" result="n"/><feComposite in="n" in2="d" operator="arithmetic" k2="3" k3="2.4" k4="-2.10"/><feColorMatrix type="matrix" values="0 0 0 0 0.733 0 0 0 0 0.510 0 0 0 0 0.282 0 0 0 0.95 0"/><feGaussianBlur stdDeviation="0.5"/></filter><filter id="f01" x="76.7" y="266.0" width="68.1" height="50.4" filterUnits="userSpaceOnUse" color-interpolation-filters="sRGB"><feGaussianBlur in="SourceGraphic" stdDeviation="4.0" result="d"/><feTurbulence type="fractalNoise" baseFrequency="0.2" numOctaves="3" seed="5" result="t"/><feColorMatrix in="t" type="matrix" values="0 0 0 0 0 0 0 0 0 0 0 0 0 0 0 1 0 0 0 0" result="n"/><feComposite in="n" in2="d" operator="arithmetic" k2="3" k3="2.4" k4="-2.10"/><feColorMatrix type="matrix" values="0 0 0 0 0.722 0 0 0 0 0.455 0 0 0 0 0.251 0 0 0 0.95 0"/><feGaussianBlur stdDeviation="0.5"/></filter><filter id="m01" x="76.7" y="266.0" width="68.1" height="50.4" filterUnits="userSpaceOnUse" color-interpolation-filters="sRGB"><feTurbulence type="fractalNoise" baseFrequency="0.28" numOctaves="3" seed="21"/><feColorMatrix type="matrix" values="0 0 0 0 0.722 0 0 0 0 0.800 0 0 0 0 0.910 2.2 0 0 0 -1.10"/></filter><filter id="f02" x="147.1" y="266.0" width="68.6" height="50.4" filterUnits="userSpaceOnUse" color-interpolation-filters="sRGB"><feGaussianBlur in="SourceGraphic" stdDeviation="1.6" result="d"/><feTurbulence type="fractalNoise" baseFrequency="0.42" numOctaves="3" seed="7" result="t"/><feColorMatrix in="t" type="matrix" values="0 0 0 0 0 0 0 0 0 0 0 0 0 0 0 1 0 0 0 0" result="n"/><feComposite in="n" in2="d" operator="arithmetic" k2="3" k3="2.4" k4="-2.10"/><feColorMatrix type="matrix" values="0 0 0 0 0.659 0 0 0 0 0.408 0 0 0 0 0.220 0 0 0 0.95 0"/><feGaussianBlur stdDeviation="0.5"/></filter><filter id="f03" x="217.8" y="266.0" width="68.1" height="50.4" filterUnits="userSpaceOnUse" color-interpolation-filters="sRGB"><feGaussianBlur in="SourceGraphic" stdDeviation="4.0" result="d"/><feTurbulence type="fractalNoise" baseFrequency="0.55" numOctaves="3" seed="9" result="t"/><feColorMatrix in="t" type="matrix" values="0 0 0 0 0 0 0 0 0 0 0 0 0 0 0 1 0 0 0 0" result="n"/><feComposite in="n" in2="d" operator="arithmetic" k2="3" k3="2.4" k4="-2.10"/><feColorMatrix type="matrix" values="0 0 0 0 0.769 0 0 0 0 0.541 0 0 0 0 0.275 0 0 0 0.95 0"/><feGaussianBlur stdDeviation="0.5"/></filter><filter id="f04" x="288.2" y="266.0" width="69.2" height="50.4" filterUnits="userSpaceOnUse" color-interpolation-filters="sRGB"><feGaussianBlur in="SourceGraphic" stdDeviation="4.0" result="d"/><feTurbulence type="fractalNoise" baseFrequency="0.5" numOctaves="3" seed="11" result="t"/><feColorMatrix in="t" type="matrix" values="0 0 0 0 0 0 0 0 0 0 0 0 0 0 0 1 0 0 0 0" result="n"/><feComposite in="n" in2="d" operator="arithmetic" k2="3" k3="2.4" k4="-2.10"/><feColorMatrix type="matrix" values="0 0 0 0 0.753 0 0 0 0 0.486 0 0 0 0 0.220 0 0 0 0.95 0"/><feGaussianBlur stdDeviation="0.5"/></filter><filter id="f10" x="6.0" y="350.0" width="68.6" height="51.0" filterUnits="userSpaceOnUse" color-interpolation-filters="sRGB"><feGaussianBlur in="SourceGraphic" stdDeviation="4.0" result="d"/><feTurbulence type="fractalNoise" baseFrequency="0.6" numOctaves="3" seed="13" result="t"/><feColorMatrix in="t" type="matrix" values="0 0 0 0 0 0 0 0 0 0 0 0 0 0 0 1 0 0 0 0" result="n"/><feComposite in="n" in2="d" operator="arithmetic" k2="3" k3="2.4" k4="-2.10"/><feColorMatrix type="matrix" values="0 0 0 0 0.663 0 0 0 0 0.471 0 0 0 0 0.314 0 0 0 0.95 0"/><feGaussianBlur stdDeviation="0.5"/></filter><filter id="m10" x="6.0" y="350.0" width="68.6" height="51.0" filterUnits="userSpaceOnUse" color-interpolation-filters="sRGB"><feTurbulence type="fractalNoise" baseFrequency="0.28" numOctaves="3" seed="31"/><feColorMatrix type="matrix" values="0 0 0 0 0.867 0 0 0 0 0.894 0 0 0 0 0.933 1.2 0 0 0 -0.60"/></filter><filter id="f11" x="76.7" y="350.0" width="68.1" height="51.0" filterUnits="userSpaceOnUse" color-interpolation-filters="sRGB"><feGaussianBlur in="SourceGraphic" stdDeviation="4.0" result="d"/><feTurbulence type="fractalNoise" baseFrequency="0.6" numOctaves="3" seed="15" result="t"/><feColorMatrix in="t" type="matrix" values="0 0 0 0 0 0 0 0 0 0 0 0 0 0 0 1 0 0 0 0" result="n"/><feComposite in="n" in2="d" operator="arithmetic" k2="3" k3="2.4" k4="-2.10"/><feColorMatrix type="matrix" values="0 0 0 0 0.690 0 0 0 0 0.502 0 0 0 0 0.376 0 0 0 0.95 0"/><feGaussianBlur stdDeviation="0.5"/></filter><filter id="m11" x="76.7" y="350.0" width="68.1" height="51.0" filterUnits="userSpaceOnUse" color-interpolation-filters="sRGB"><feTurbulence type="fractalNoise" baseFrequency="0.28" numOctaves="3" seed="33"/><feColorMatrix type="matrix" values="0 0 0 0 0.769 0 0 0 0 0.831 0 0 0 0 0.933 1.6 0 0 0 -0.80"/></filter><filter id="f12" x="147.1" y="350.0" width="68.6" height="51.0" filterUnits="userSpaceOnUse" color-interpolation-filters="sRGB"><feGaussianBlur in="SourceGraphic" stdDeviation="4.0" result="d"/><feTurbulence type="fractalNoise" baseFrequency="0.6" numOctaves="3" seed="17" result="t"/><feColorMatrix in="t" type="matrix" values="0 0 0 0 0 0 0 0 0 0 0 0 0 0 0 1 0 0 0 0" result="n"/><feComposite in="n" in2="d" operator="arithmetic" k2="3" k3="2.4" k4="-2.10"/><feColorMatrix type="matrix" values="0 0 0 0 0.753 0 0 0 0 0.627 0 0 0 0 0.502 0 0 0 0.95 0"/><feGaussianBlur stdDeviation="0.5"/></filter><filter id="m12" x="147.1" y="350.0" width="68.6" height="51.0" filterUnits="userSpaceOnUse" color-interpolation-filters="sRGB"><feTurbulence type="fractalNoise" baseFrequency="0.28" numOctaves="3" seed="35"/><feColorMatrix type="matrix" values="0 0 0 0 0.784 0 0 0 0 0.808 0 0 0 0 0.871 1.2 0 0 0 -0.60"/></filter><filter id="f13" x="217.8" y="350.0" width="68.1" height="51.0" filterUnits="userSpaceOnUse" color-interpolation-filters="sRGB"><feGaussianBlur in="SourceGraphic" stdDeviation="4.0" result="d"/><feTurbulence type="fractalNoise" baseFrequency="0.6" numOctaves="3" seed="19" result="t"/><feColorMatrix in="t" type="matrix" values="0 0 0 0 0 0 0 0 0 0 0 0 0 0 0 1 0 0 0 0" result="n"/><feComposite in="n" in2="d" operator="arithmetic" k2="3" k3="2.4" k4="-2.10"/><feColorMatrix type="matrix" values="0 0 0 0 0.753 0 0 0 0 0.627 0 0 0 0 0.502 0 0 0 0.95 0"/><feGaussianBlur stdDeviation="0.5"/></filter><filter id="m13" x="217.8" y="350.0" width="68.1" height="51.0" filterUnits="userSpaceOnUse" color-interpolation-filters="sRGB"><feTurbulence type="fractalNoise" baseFrequency="0.28" numOctaves="3" seed="37"/><feColorMatrix type="matrix" values="0 0 0 0 0.769 0 0 0 0 0.792 0 0 0 0 0.863 1.2 0 0 0 -0.60"/></filter><filter id="f14" x="288.2" y="350.0" width="69.2" height="51.0" filterUnits="userSpaceOnUse" color-interpolation-filters="sRGB"><feGaussianBlur in="SourceGraphic" stdDeviation="4.0" result="d"/><feTurbulence type="fractalNoise" baseFrequency="0.6" numOctaves="3" seed="21" result="t"/><feColorMatrix in="t" type="matrix" values="0 0 0 0 0 0 0 0 0 0 0 0 0 0 0 1 0 0 0 0" result="n"/><feComposite in="n" in2="d" operator="arithmetic" k2="3" k3="2.4" k4="-2.10"/><feColorMatrix type="matrix" values="0 0 0 0 0.816 0 0 0 0 0.627 0 0 0 0 0.439 0 0 0 0.95 0"/><feGaussianBlur stdDeviation="0.5"/></filter></defs>
<text x="40.30" y="329.90" font-size="8.6" fill="#303030" text-anchor="middle" textLength="25.40" lengthAdjust="spacingAndGlyphs" stroke="#303030" stroke-width="0.18">T-cells</text>
<text x="110.40" y="329.90" font-size="8.6" fill="#303030" text-anchor="middle" textLength="13.20" lengthAdjust="spacingAndGlyphs" stroke="#303030" stroke-width="0.18">M2</text>
<text x="110.40" y="341.00" font-size="8.6" fill="#303030" text-anchor="middle" textLength="57.00" lengthAdjust="spacingAndGlyphs" stroke="#303030" stroke-width="0.18">macrophages</text>
<text x="181.40" y="329.90" font-size="8.6" fill="#303030" text-anchor="middle" stroke="#303030" stroke-width="0.18">FDC</text>
<text x="251.20" y="329.90" font-size="8.6" fill="#303030" text-anchor="middle" stroke="#303030" stroke-width="0.18">PD1</text>
<text x="322.00" y="329.90" font-size="8.6" fill="#303030" text-anchor="middle" stroke="#303030" stroke-width="0.18">PD-L1</text>
<text x="364.80" y="258.30" font-size="10.5" fill="#111" text-anchor="start" font-weight="bold">D</text>
<circle cx="383.54" cy="283.20" r="2.88" fill="#68aad0"/>
<circle cx="393.00" cy="283.20" r="2.75" fill="#7ab6d6"/>
<circle cx="402.48" cy="283.20" r="0.87" fill="#eef3f5"/>
<circle cx="411.94" cy="283.20" r="1.74" fill="#d4e6f1"/>
<circle cx="421.42" cy="283.20" r="1.51" fill="#fbe4d6"/>
<circle cx="430.88" cy="283.20" r="1.51" fill="#ddebf2"/>
<circle cx="449.83" cy="283.20" r="2.75" fill="#7ab6d6"/>
<circle cx="459.30" cy="283.20" r="2.30" fill="#abd1e5"/>
<circle cx="468.76" cy="283.20" r="0.87" fill="#eef3f5"/>
<circle cx="478.24" cy="283.20" r="2.75" fill="#7ab6d6"/>
<circle cx="487.71" cy="283.20" r="0.87" fill="#eef3f5"/>
<circle cx="393.00" cy="292.60" r="3.25" fill="#3c89be"/>
<circle cx="402.48" cy="292.60" r="2.46" fill="#9ccae1"/>
<circle cx="411.94" cy="292.60" r="1.74" fill="#d4e6f1"/>
<circle cx="421.42" cy="292.60" r="1.10" fill="#f9ede5"/>
<circle cx="430.88" cy="292.60" r="1.74" fill="#fdddcb"/>
<circle cx="440.36" cy="292.60" r="1.51" fill="#fbe4d6"/>
<circle cx="449.83" cy="292.60" r="1.51" fill="#ddebf2"/>
<circle cx="459.30" cy="292.60" r="1.23" fill="#e6eff4"/>
<circle cx="468.76" cy="292.60" r="1.35" fill="#e2edf3"/>
<circle cx="478.24" cy="292.60" r="0.87" fill="#eef3f5"/>
<circle cx="487.71" cy="292.60" r="2.30" fill="#abd1e5"/>
<circle cx="402.48" cy="302.00" r="1.35" fill="#e2edf3"/>
<circle cx="411.94" cy="302.00" r="2.46" fill="#9ccae1"/>
<circle cx="421.42" cy="302.00" r="2.13" fill="#fac6ad"/>
<circle cx="430.88" cy="302.00" r="0.67" fill="#f2f5f6"/>
<circle cx="440.36" cy="302.00" r="0.87" fill="#f8f1ec"/>
<circle cx="449.83" cy="302.00" r="2.46" fill="#9ccae1"/>
<circle cx="459.30" cy="302.00" r="2.40" fill="#a2cde3"/>
<circle cx="468.76" cy="302.00" r="1.51" fill="#ddebf2"/>
<circle cx="478.24" cy="302.00" r="2.13" fill="#b9d9e9"/>
<circle cx="487.71" cy="302.00" r="0.78" fill="#f0f4f6"/>
<circle cx="411.94" cy="311.40" r="2.46" fill="#9ccae1"/>
<circle cx="430.88" cy="311.40" r="2.30" fill="#f8ba9d"/>
<circle cx="440.36" cy="311.40" r="0.87" fill="#f8f1ec"/>
<circle cx="459.30" cy="311.40" r="0.87" fill="#eef3f5"/>
<circle cx="468.76" cy="311.40" r="2.13" fill="#fac6ad"/>
<circle cx="478.24" cy="311.40" r="1.74" fill="#fdddcb"/>
<circle cx="487.71" cy="311.40" r="1.51" fill="#ddebf2"/>
<circle cx="421.42" cy="320.80" r="2.30" fill="#f8ba9d"/>
<circle cx="430.88" cy="320.80" r="0.67" fill="#f2f5f6"/>
<circle cx="440.36" cy="320.80" r="1.51" fill="#ddebf2"/>
<circle cx="449.83" cy="320.80" r="1.35" fill="#e2edf3"/>
<circle cx="459.30" cy="320.80" r="1.51" fill="#ddebf2"/>
<circle cx="468.76" cy="320.80" r="2.30" fill="#f8ba9d"/>
<circle cx="478.24" cy="320.80" r="1.51" fill="#ddebf2"/>
<circle cx="487.71" cy="320.80" r="2.30" fill="#abd1e5"/>
<circle cx="430.88" cy="330.20" r="0.87" fill="#eef3f5"/>
<circle cx="440.36" cy="330.20" r="2.30" fill="#abd1e5"/>
<circle cx="449.83" cy="330.20" r="1.10" fill="#e9f0f4"/>
<circle cx="459.30" cy="330.20" r="2.30" fill="#abd1e5"/>
<circle cx="478.24" cy="330.20" r="0.87" fill="#f8f1ec"/>
<circle cx="487.71" cy="330.20" r="0.87" fill="#eef3f5"/>
<circle cx="440.36" cy="339.60" r="1.74" fill="#d4e6f1"/>
<circle cx="449.83" cy="339.60" r="1.51" fill="#ddebf2"/>
<circle cx="459.30" cy="339.60" r="1.74" fill="#d4e6f1"/>
<circle cx="468.76" cy="339.60" r="0.87" fill="#f8f1ec"/>
<circle cx="478.24" cy="339.60" r="2.30" fill="#abd1e5"/>
<circle cx="487.71" cy="339.60" r="0.55" fill="#f4f5f6"/>
<circle cx="449.83" cy="349.00" r="2.75" fill="#7ab6d6"/>
<circle cx="459.30" cy="349.00" r="2.75" fill="#7ab6d6"/>
<circle cx="468.76" cy="349.00" r="1.51" fill="#fbe4d6"/>
<circle cx="478.24" cy="349.00" r="0.87" fill="#eef3f5"/>
<circle cx="487.71" cy="349.00" r="2.75" fill="#7ab6d6"/>
<circle cx="459.30" cy="358.40" r="2.88" fill="#68aad0"/>
<circle cx="468.76" cy="358.40" r="2.13" fill="#b9d9e9"/>
<circle cx="478.24" cy="358.40" r="2.30" fill="#abd1e5"/>
<circle cx="487.71" cy="358.40" r="2.75" fill="#7ab6d6"/>
<circle cx="478.24" cy="367.80" r="1.35" fill="#e2edf3"/>
<circle cx="487.71" cy="367.80" r="2.46" fill="#9ccae1"/>
<circle cx="478.24" cy="377.20" r="0.78" fill="#f0f4f6"/>
<circle cx="487.71" cy="377.20" r="0.87" fill="#eef3f5"/>
<circle cx="487.71" cy="386.60" r="2.46" fill="#9ccae1"/>
<path d="M378.80 278.50H492.44M378.80 287.90H492.44M388.27 297.30H492.44M397.74 306.70H492.44M407.21 316.10H492.44M416.68 325.50H492.44M426.15 334.90H492.44M435.62 344.30H492.44M445.09 353.70H492.44M454.56 363.10H492.44M464.03 372.50H492.44M473.50 381.90H492.44M482.97 391.30H492.44M378.80 278.50V287.90M388.27 278.50V297.30M397.74 278.50V306.70M407.21 278.50V316.10M416.68 278.50V325.50M426.15 278.50V334.90M435.62 278.50V344.30M445.09 278.50V353.70M454.56 278.50V363.10M464.03 278.50V372.50M473.50 278.50V381.90M482.97 278.50V391.30M492.44 278.50V391.30" fill="none" stroke="#5c5c5c" stroke-width="1.0"/>
<text x="377.50" y="285.50" font-size="6.6" fill="#303030" text-anchor="end" stroke="#303030" stroke-width="0.18">CD8</text>
<text x="386.97" y="294.90" font-size="6.6" fill="#303030" text-anchor="end" stroke="#303030" stroke-width="0.18">ICOS</text>
<text x="396.44" y="304.30" font-size="6.6" fill="#303030" text-anchor="end" stroke="#303030" stroke-width="0.18">PDL1</text>
<text x="405.91" y="313.70" font-size="6.6" fill="#303030" text-anchor="end" stroke="#303030" stroke-width="0.18">CD56</text>
<text x="415.38" y="323.10" font-size="6.6" fill="#303030" text-anchor="end" stroke="#303030" stroke-width="0.18">CD68</text>
<text x="424.85" y="332.50" font-size="6.6" fill="#303030" text-anchor="end" stroke="#303030" stroke-width="0.18">TIM3</text>
<text x="434.32" y="341.90" font-size="6.6" fill="#303030" text-anchor="end" stroke="#303030" stroke-width="0.18">CD21</text>
<text x="443.79" y="351.30" font-size="6.6" fill="#303030" text-anchor="end" stroke="#303030" stroke-width="0.18">PD1</text>
<text x="453.26" y="360.70" font-size="6.6" fill="#303030" text-anchor="end" stroke="#303030" stroke-width="0.18">CD3</text>
<text x="462.73" y="370.10" font-size="6.6" fill="#303030" text-anchor="end" stroke="#303030" stroke-width="0.18">FOXP3</text>
<text x="472.20" y="379.50" font-size="6.6" fill="#303030" text-anchor="end" stroke="#303030" stroke-width="0.18">HLADR</text>
<text x="481.67" y="388.90" font-size="6.6" fill="#303030" text-anchor="end" stroke="#303030" stroke-width="0.18">CD163</text>
<text x="0" y="0" font-size="6.8" fill="#303030" stroke="#303030" stroke-width="0.15" transform="translate(384.94,277.50) rotate(-45)">ICOS</text>
<text x="0" y="0" font-size="6.8" fill="#303030" stroke="#303030" stroke-width="0.15" transform="translate(394.40,277.50) rotate(-45)">PDL1</text>
<text x="0" y="0" font-size="6.8" fill="#303030" stroke="#303030" stroke-width="0.15" transform="translate(403.88,277.50) rotate(-45)">CD56</text>
<text x="0" y="0" font-size="6.8" fill="#303030" stroke="#303030" stroke-width="0.15" transform="translate(413.34,277.50) rotate(-45)">CD68</text>
<text x="0" y="0" font-size="6.8" fill="#303030" stroke="#303030" stroke-width="0.15" transform="translate(422.81,277.50) rotate(-45)">TIM3</text>
<text x="0" y="0" font-size="6.8" fill="#303030" stroke="#303030" stroke-width="0.15" transform="translate(432.28,277.50) rotate(-45)">CD21</text>
<text x="0" y="0" font-size="6.8" fill="#303030" stroke="#303030" stroke-width="0.15" transform="translate(441.75,277.50) rotate(-45)">PD1</text>
<text x="0" y="0" font-size="6.8" fill="#303030" stroke="#303030" stroke-width="0.15" transform="translate(451.23,277.50) rotate(-45)">CD3</text>
<text x="0" y="0" font-size="6.8" fill="#303030" stroke="#303030" stroke-width="0.15" transform="translate(460.69,277.50) rotate(-45)">FOXP3</text>
<text x="0" y="0" font-size="6.8" fill="#303030" stroke="#303030" stroke-width="0.15" transform="translate(470.16,277.50) rotate(-45)">HLADR</text>
<text x="0" y="0" font-size="6.8" fill="#303030" stroke="#303030" stroke-width="0.15" transform="translate(479.63,277.50) rotate(-45)">CD163</text>
<text x="0" y="0" font-size="6.8" fill="#303030" stroke="#303030" stroke-width="0.15" transform="translate(489.11,277.50) rotate(-45)">CD4</text>
<defs><linearGradient id="cb" x1="0" y1="0" x2="0" y2="1"><stop offset="0.00" stop-color="#053061"/><stop offset="0.10" stop-color="#2166ac"/><stop offset="0.20" stop-color="#4393c3"/><stop offset="0.30" stop-color="#92c5de"/><stop offset="0.40" stop-color="#d1e5f0"/><stop offset="0.50" stop-color="#f7f7f7"/><stop offset="0.60" stop-color="#fddbc7"/><stop offset="0.70" stop-color="#f4a582"/><stop offset="0.80" stop-color="#d6604d"/><stop offset="0.90" stop-color="#b2182b"/><stop offset="1.00" stop-color="#67001f"/></linearGradient></defs>
<rect x="494.60" y="278.40" width="4.70" height="113.00" fill="url(#cb)" stroke="#333" stroke-width="0.6"/>
<line x1="498.40" y1="278.40" x2="499.90" y2="278.40" stroke="#222" stroke-width="0.7"/>
<text x="505.00" y="280.70" font-size="6.7" fill="#303030" text-anchor="start" stroke="#303030" stroke-width="0.18">1</text>
<line x1="498.40" y1="289.70" x2="499.90" y2="289.70" stroke="#222" stroke-width="0.7"/>
<text x="505.00" y="292.00" font-size="6.7" fill="#303030" text-anchor="start" stroke="#303030" stroke-width="0.18">0.8</text>
<line x1="498.40" y1="301.00" x2="499.90" y2="301.00" stroke="#222" stroke-width="0.7"/>
<text x="505.00" y="303.30" font-size="6.7" fill="#303030" text-anchor="start" stroke="#303030" stroke-width="0.18">0.6</text>
<line x1="498.40" y1="312.30" x2="499.90" y2="312.30" stroke="#222" stroke-width="0.7"/>
<text x="505.00" y="314.60" font-size="6.7" fill="#303030" text-anchor="start" stroke="#303030" stroke-width="0.18">0.4</text>
<line x1="498.40" y1="323.60" x2="499.90" y2="323.60" stroke="#222" stroke-width="0.7"/>
<text x="505.00" y="325.90" font-size="6.7" fill="#303030" text-anchor="start" stroke="#303030" stroke-width="0.18">0.2</text>
<line x1="498.40" y1="334.90" x2="499.90" y2="334.90" stroke="#222" stroke-width="0.7"/>
<text x="505.00" y="337.20" font-size="6.7" fill="#303030" text-anchor="start" stroke="#303030" stroke-width="0.18">0</text>
<line x1="498.40" y1="346.20" x2="499.90" y2="346.20" stroke="#222" stroke-width="0.7"/>
<text x="501.60" y="348.50" font-size="6.7" fill="#303030" text-anchor="start" stroke="#303030" stroke-width="0.18">−0.2</text>
<line x1="498.40" y1="357.50" x2="499.90" y2="357.50" stroke="#222" stroke-width="0.7"/>
<text x="501.60" y="359.80" font-size="6.7" fill="#303030" text-anchor="start" stroke="#303030" stroke-width="0.18">−0.4</text>
<line x1="498.40" y1="368.80" x2="499.90" y2="368.80" stroke="#222" stroke-width="0.7"/>
<text x="501.60" y="371.10" font-size="6.7" fill="#303030" text-anchor="start" stroke="#303030" stroke-width="0.18">−0.6</text>
<line x1="498.40" y1="380.10" x2="499.90" y2="380.10" stroke="#222" stroke-width="0.7"/>
<text x="501.60" y="382.40" font-size="6.7" fill="#303030" text-anchor="start" stroke="#303030" stroke-width="0.18">−0.8</text>
<line x1="498.40" y1="391.40" x2="499.90" y2="391.40" stroke="#222" stroke-width="0.7"/>
<text x="501.60" y="393.70" font-size="6.7" fill="#303030" text-anchor="start" stroke="#303030" stroke-width="0.18">−1</text>
<rect x="0.5" y="0.5" width="518.6" height="406.6" fill="none" stroke="#1a1616" stroke-width="1.1"/>
<path d="M519.3 0V408M0 407.3H520" stroke="#1a1616" stroke-width="1.4"/>
</svg>
</body></html>
